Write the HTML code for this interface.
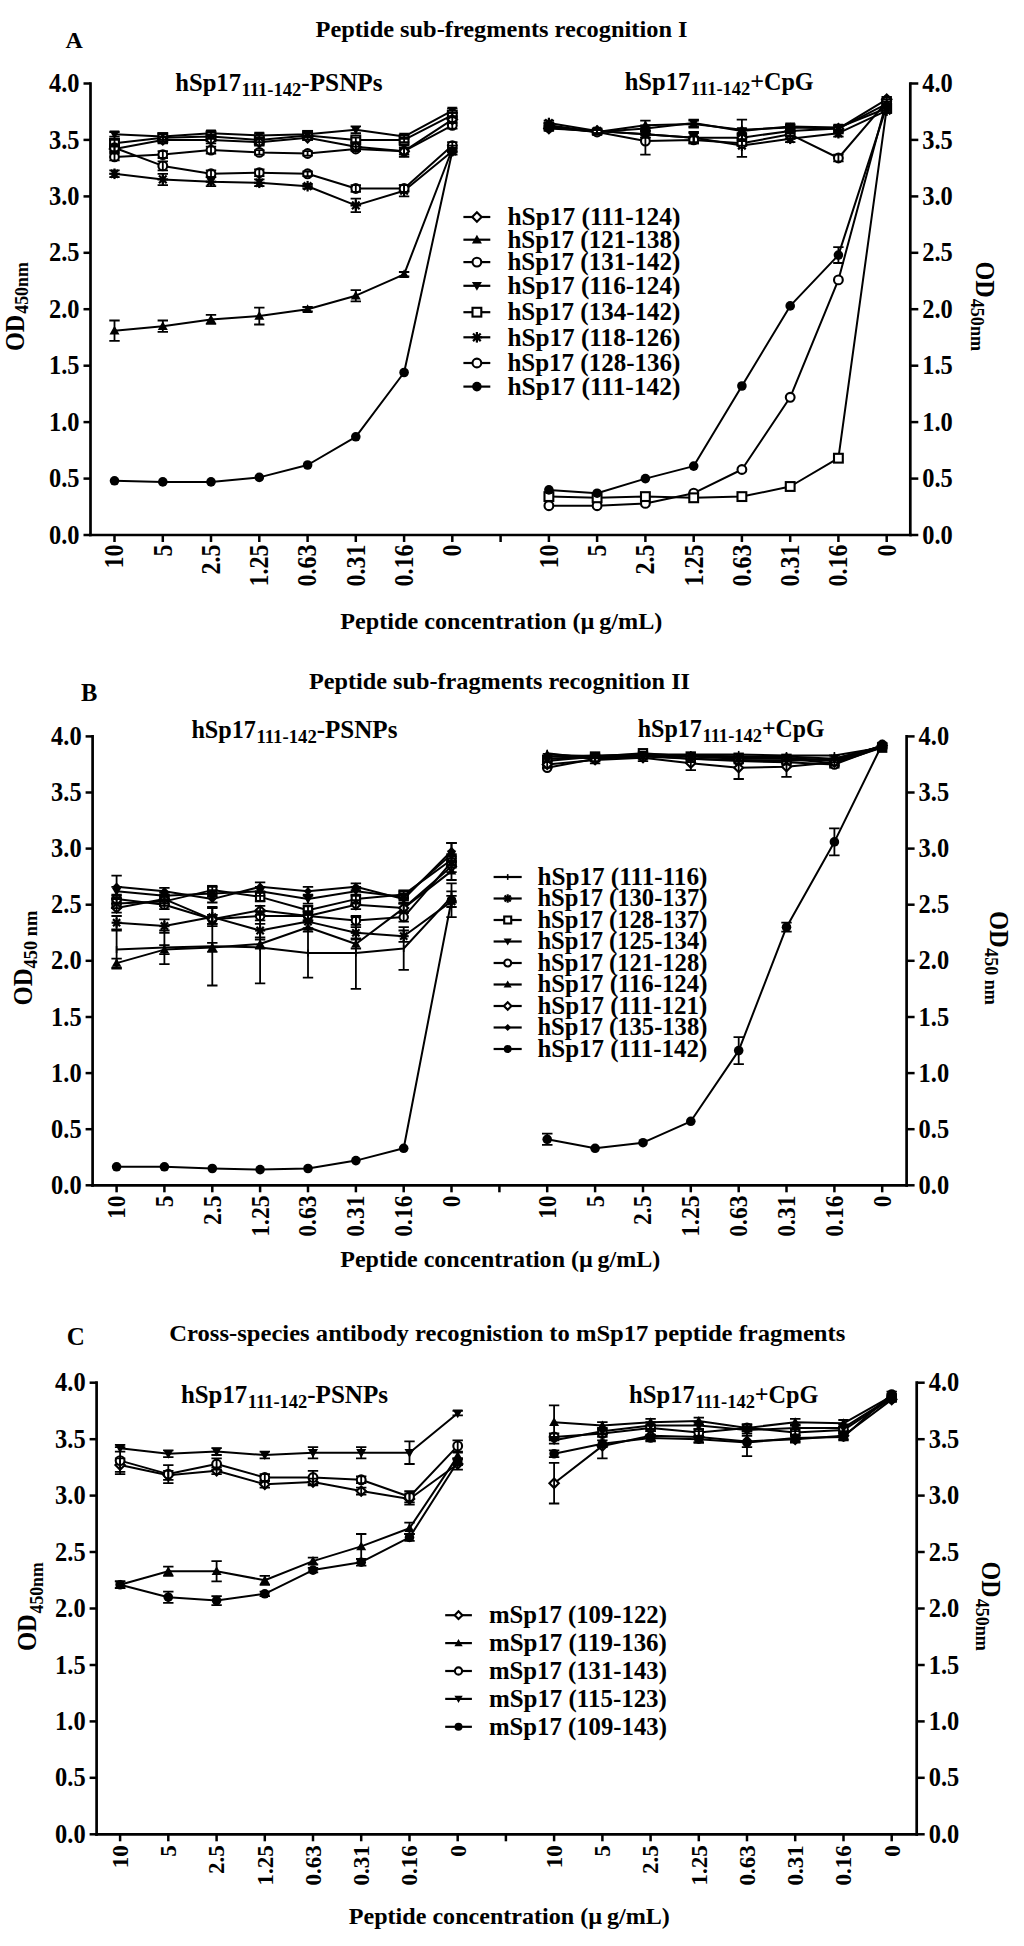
<!DOCTYPE html><html><head><meta charset="utf-8"><title>Peptide sub-fragments recognition</title>
<style>html,body{margin:0;padding:0;background:#fff;}svg{display:block;}</style></head><body>
<svg width="1024" height="1946" viewBox="0 0 1024 1946" font-family="'Liberation Serif', serif" font-weight="bold" fill="#000">
<rect width="1024" height="1946" fill="#fff"/>
<text x="65.5" y="47.8" font-size="24">A</text>
<text x="315.5" y="37.3" font-size="24" textLength="372.0" lengthAdjust="spacingAndGlyphs">Peptide sub-fregments recognition I</text>
<text x="175.3" y="90.5" font-size="24.5" textLength="65.7" lengthAdjust="spacingAndGlyphs">hSp17</text>
<text x="241.5" y="95.9" font-size="18" textLength="59.9" lengthAdjust="spacingAndGlyphs">111-142</text>
<text x="301.3" y="90.5" font-size="24.5" textLength="81.3" lengthAdjust="spacingAndGlyphs">-PSNPs</text>
<text x="624.7" y="90.0" font-size="24.5" textLength="65.5" lengthAdjust="spacingAndGlyphs">hSp17</text>
<text x="690.7" y="95.2" font-size="18" textLength="59.6" lengthAdjust="spacingAndGlyphs">111-142</text>
<text x="750.2" y="90.0" font-size="24.5" textLength="63.5" lengthAdjust="spacingAndGlyphs">+CpG</text>
<g stroke="#000" stroke-width="2.7" fill="none" stroke-linecap="square">
<line x1="90.5" y1="83.5" x2="90.5" y2="535.0"/>
<line x1="910.3" y1="83.5" x2="910.3" y2="535.0"/>
<line x1="90.5" y1="535.0" x2="910.3" y2="535.0"/>
</g>
<g stroke="#000" stroke-width="2.5" fill="none">
<line x1="83.5" y1="535.0" x2="90.5" y2="535.0"/>
<line x1="910.3" y1="535.0" x2="918.3" y2="535.0"/>
<line x1="83.5" y1="478.6" x2="90.5" y2="478.6"/>
<line x1="910.3" y1="478.6" x2="918.3" y2="478.6"/>
<line x1="83.5" y1="422.1" x2="90.5" y2="422.1"/>
<line x1="910.3" y1="422.1" x2="918.3" y2="422.1"/>
<line x1="83.5" y1="365.7" x2="90.5" y2="365.7"/>
<line x1="910.3" y1="365.7" x2="918.3" y2="365.7"/>
<line x1="83.5" y1="309.2" x2="90.5" y2="309.2"/>
<line x1="910.3" y1="309.2" x2="918.3" y2="309.2"/>
<line x1="83.5" y1="252.8" x2="90.5" y2="252.8"/>
<line x1="910.3" y1="252.8" x2="918.3" y2="252.8"/>
<line x1="83.5" y1="196.4" x2="90.5" y2="196.4"/>
<line x1="910.3" y1="196.4" x2="918.3" y2="196.4"/>
<line x1="83.5" y1="139.9" x2="90.5" y2="139.9"/>
<line x1="910.3" y1="139.9" x2="918.3" y2="139.9"/>
<line x1="83.5" y1="83.5" x2="90.5" y2="83.5"/>
<line x1="910.3" y1="83.5" x2="918.3" y2="83.5"/>
<line x1="114.5" y1="535.0" x2="114.5" y2="542.0"/>
<line x1="162.8" y1="535.0" x2="162.8" y2="542.0"/>
<line x1="211.0" y1="535.0" x2="211.0" y2="542.0"/>
<line x1="259.3" y1="535.0" x2="259.3" y2="542.0"/>
<line x1="307.6" y1="535.0" x2="307.6" y2="542.0"/>
<line x1="355.8" y1="535.0" x2="355.8" y2="542.0"/>
<line x1="404.1" y1="535.0" x2="404.1" y2="542.0"/>
<line x1="452.3" y1="535.0" x2="452.3" y2="542.0"/>
<line x1="500.6" y1="535.0" x2="500.6" y2="542.0"/>
<line x1="548.9" y1="535.0" x2="548.9" y2="542.0"/>
<line x1="597.1" y1="535.0" x2="597.1" y2="542.0"/>
<line x1="645.4" y1="535.0" x2="645.4" y2="542.0"/>
<line x1="693.7" y1="535.0" x2="693.7" y2="542.0"/>
<line x1="741.9" y1="535.0" x2="741.9" y2="542.0"/>
<line x1="790.2" y1="535.0" x2="790.2" y2="542.0"/>
<line x1="838.4" y1="535.0" x2="838.4" y2="542.0"/>
<line x1="886.7" y1="535.0" x2="886.7" y2="542.0"/>
</g>
<text x="79.5" y="543.6" font-size="27.5" text-anchor="end" textLength="30.5" lengthAdjust="spacingAndGlyphs">0.0</text>
<text x="922.3" y="543.6" font-size="27.5" textLength="30.5" lengthAdjust="spacingAndGlyphs">0.0</text>
<text x="79.5" y="487.2" font-size="27.5" text-anchor="end" textLength="30.5" lengthAdjust="spacingAndGlyphs">0.5</text>
<text x="922.3" y="487.2" font-size="27.5" textLength="30.5" lengthAdjust="spacingAndGlyphs">0.5</text>
<text x="79.5" y="430.7" font-size="27.5" text-anchor="end" textLength="30.5" lengthAdjust="spacingAndGlyphs">1.0</text>
<text x="922.3" y="430.7" font-size="27.5" textLength="30.5" lengthAdjust="spacingAndGlyphs">1.0</text>
<text x="79.5" y="374.3" font-size="27.5" text-anchor="end" textLength="30.5" lengthAdjust="spacingAndGlyphs">1.5</text>
<text x="922.3" y="374.3" font-size="27.5" textLength="30.5" lengthAdjust="spacingAndGlyphs">1.5</text>
<text x="79.5" y="317.9" font-size="27.5" text-anchor="end" textLength="30.5" lengthAdjust="spacingAndGlyphs">2.0</text>
<text x="922.3" y="317.9" font-size="27.5" textLength="30.5" lengthAdjust="spacingAndGlyphs">2.0</text>
<text x="79.5" y="261.4" font-size="27.5" text-anchor="end" textLength="30.5" lengthAdjust="spacingAndGlyphs">2.5</text>
<text x="922.3" y="261.4" font-size="27.5" textLength="30.5" lengthAdjust="spacingAndGlyphs">2.5</text>
<text x="79.5" y="205.0" font-size="27.5" text-anchor="end" textLength="30.5" lengthAdjust="spacingAndGlyphs">3.0</text>
<text x="922.3" y="205.0" font-size="27.5" textLength="30.5" lengthAdjust="spacingAndGlyphs">3.0</text>
<text x="79.5" y="148.5" font-size="27.5" text-anchor="end" textLength="30.5" lengthAdjust="spacingAndGlyphs">3.5</text>
<text x="922.3" y="148.5" font-size="27.5" textLength="30.5" lengthAdjust="spacingAndGlyphs">3.5</text>
<text x="79.5" y="92.1" font-size="27.5" text-anchor="end" textLength="30.5" lengthAdjust="spacingAndGlyphs">4.0</text>
<text x="922.3" y="92.1" font-size="27.5" textLength="30.5" lengthAdjust="spacingAndGlyphs">4.0</text>
<text transform="translate(123.3,544.6) rotate(-90)" font-size="26.5" text-anchor="end" textLength="24.0" lengthAdjust="spacingAndGlyphs">10</text>
<text transform="translate(171.6,544.6) rotate(-90)" font-size="26.5" text-anchor="end" textLength="12.0" lengthAdjust="spacingAndGlyphs">5</text>
<text transform="translate(219.8,544.6) rotate(-90)" font-size="26.5" text-anchor="end" textLength="30.0" lengthAdjust="spacingAndGlyphs">2.5</text>
<text transform="translate(268.1,544.6) rotate(-90)" font-size="26.5" text-anchor="end" textLength="42.0" lengthAdjust="spacingAndGlyphs">1.25</text>
<text transform="translate(316.4,544.6) rotate(-90)" font-size="26.5" text-anchor="end" textLength="42.0" lengthAdjust="spacingAndGlyphs">0.63</text>
<text transform="translate(364.6,544.6) rotate(-90)" font-size="26.5" text-anchor="end" textLength="42.0" lengthAdjust="spacingAndGlyphs">0.31</text>
<text transform="translate(412.9,544.6) rotate(-90)" font-size="26.5" text-anchor="end" textLength="42.0" lengthAdjust="spacingAndGlyphs">0.16</text>
<text transform="translate(461.1,544.6) rotate(-90)" font-size="26.5" text-anchor="end" textLength="12.0" lengthAdjust="spacingAndGlyphs">0</text>
<text transform="translate(557.7,544.6) rotate(-90)" font-size="26.5" text-anchor="end" textLength="24.0" lengthAdjust="spacingAndGlyphs">10</text>
<text transform="translate(605.9,544.6) rotate(-90)" font-size="26.5" text-anchor="end" textLength="12.0" lengthAdjust="spacingAndGlyphs">5</text>
<text transform="translate(654.2,544.6) rotate(-90)" font-size="26.5" text-anchor="end" textLength="30.0" lengthAdjust="spacingAndGlyphs">2.5</text>
<text transform="translate(702.5,544.6) rotate(-90)" font-size="26.5" text-anchor="end" textLength="42.0" lengthAdjust="spacingAndGlyphs">1.25</text>
<text transform="translate(750.7,544.6) rotate(-90)" font-size="26.5" text-anchor="end" textLength="42.0" lengthAdjust="spacingAndGlyphs">0.63</text>
<text transform="translate(799.0,544.6) rotate(-90)" font-size="26.5" text-anchor="end" textLength="42.0" lengthAdjust="spacingAndGlyphs">0.31</text>
<text transform="translate(847.2,544.6) rotate(-90)" font-size="26.5" text-anchor="end" textLength="42.0" lengthAdjust="spacingAndGlyphs">0.16</text>
<text transform="translate(895.5,544.6) rotate(-90)" font-size="26.5" text-anchor="end" textLength="12.0" lengthAdjust="spacingAndGlyphs">0</text>
<text transform="translate(24.0,351.0) rotate(-90)" font-size="26.5" textLength="36.3" lengthAdjust="spacingAndGlyphs">OD</text>
<text transform="translate(27.7,313.8) rotate(-90)" font-size="18" textLength="51.7" lengthAdjust="spacingAndGlyphs">450nm</text>
<text transform="translate(976.4,261.6) rotate(90)" font-size="26.5" textLength="36.1" lengthAdjust="spacingAndGlyphs">OD</text>
<text transform="translate(971.3,298.8) rotate(90)" font-size="18" textLength="52.2" lengthAdjust="spacingAndGlyphs">450nm</text>
<text x="340.3" y="629.0" font-size="24" textLength="322.0" lengthAdjust="spacingAndGlyphs">Peptide concentration (µ g/mL)</text>
<path d="M114.5,173.8 L162.8,179.4 L211.0,181.7 L259.3,182.8 L307.6,186.2 L355.8,205.4 L404.1,190.7 L452.3,151.2" fill="none" stroke="#000" stroke-width="2.0" stroke-linejoin="round"/>
<path d="M114.5,330.7 L162.8,326.2 L211.0,319.4 L259.3,316.0 L307.6,309.2 L355.8,295.7 L404.1,274.3 L452.3,149.0" fill="none" stroke="#000" stroke-width="2.0" stroke-linejoin="round"/>
<path d="M114.5,156.9 L162.8,154.6 L211.0,150.1 L259.3,152.4 L307.6,153.5 L355.8,149.0 L404.1,151.2 L452.3,125.3" fill="none" stroke="#000" stroke-width="2.0" stroke-linejoin="round"/>
<path d="M114.5,134.3 L162.8,136.6 L211.0,133.2 L259.3,135.4 L307.6,134.3 L355.8,129.8 L404.1,136.6 L452.3,110.6" fill="none" stroke="#000" stroke-width="2.0" stroke-linejoin="round"/>
<path d="M114.5,143.3 L162.8,137.7 L211.0,136.6 L259.3,139.9 L307.6,135.4 L355.8,139.9 L404.1,139.9 L452.3,115.1" fill="none" stroke="#000" stroke-width="2.0" stroke-linejoin="round"/>
<path d="M114.5,149.0 L162.8,139.9 L211.0,139.9 L259.3,142.2 L307.6,137.7 L355.8,146.7 L404.1,151.2 L452.3,119.6" fill="none" stroke="#000" stroke-width="2.0" stroke-linejoin="round"/>
<path d="M114.5,147.8 L162.8,165.9 L211.0,173.8 L259.3,172.7 L307.6,173.8 L355.8,188.5 L404.1,188.5 L452.3,145.6" fill="none" stroke="#000" stroke-width="2.0" stroke-linejoin="round"/>
<path d="M114.5,480.8 L162.8,481.9 L211.0,481.9 L259.3,477.4 L307.6,465.0 L355.8,436.8 L404.1,372.5 L452.3,151.2" fill="none" stroke="#000" stroke-width="2.0" stroke-linejoin="round"/>
<g stroke="#000" stroke-width="2.2"><line x1="109.2" y1="173.8" x2="119.8" y2="173.8"/><line x1="114.5" y1="168.5" x2="114.5" y2="179.1"/><line x1="110.7" y1="170.0" x2="118.3" y2="177.6"/><line x1="110.7" y1="177.6" x2="118.3" y2="170.0"/></g>
<circle cx="114.5" cy="173.8" r="2.9" fill="#000"/>
<g stroke="#000" stroke-width="2.2"><line x1="157.5" y1="179.4" x2="168.1" y2="179.4"/><line x1="162.8" y1="174.2" x2="162.8" y2="184.7"/><line x1="159.0" y1="175.6" x2="166.6" y2="183.3"/><line x1="159.0" y1="183.3" x2="166.6" y2="175.6"/></g>
<circle cx="162.8" cy="179.4" r="2.9" fill="#000"/>
<g stroke="#000" stroke-width="2.2"><line x1="205.7" y1="181.7" x2="216.3" y2="181.7"/><line x1="211.0" y1="176.4" x2="211.0" y2="187.0"/><line x1="207.2" y1="177.9" x2="214.8" y2="185.5"/><line x1="207.2" y1="185.5" x2="214.8" y2="177.9"/></g>
<circle cx="211.0" cy="181.7" r="2.9" fill="#000"/>
<g stroke="#000" stroke-width="2.2"><line x1="254.0" y1="182.8" x2="264.6" y2="182.8"/><line x1="259.3" y1="177.5" x2="259.3" y2="188.1"/><line x1="255.5" y1="179.0" x2="263.1" y2="186.6"/><line x1="255.5" y1="186.6" x2="263.1" y2="179.0"/></g>
<circle cx="259.3" cy="182.8" r="2.9" fill="#000"/>
<g stroke="#000" stroke-width="2.2"><line x1="302.3" y1="186.2" x2="312.8" y2="186.2"/><line x1="307.6" y1="180.9" x2="307.6" y2="191.5"/><line x1="303.7" y1="182.4" x2="311.4" y2="190.0"/><line x1="303.7" y1="190.0" x2="311.4" y2="182.4"/></g>
<circle cx="307.6" cy="186.2" r="2.9" fill="#000"/>
<g stroke="#000" stroke-width="2.2"><line x1="350.5" y1="205.4" x2="361.1" y2="205.4"/><line x1="355.8" y1="200.1" x2="355.8" y2="210.7"/><line x1="352.0" y1="201.6" x2="359.6" y2="209.2"/><line x1="352.0" y1="209.2" x2="359.6" y2="201.6"/></g>
<circle cx="355.8" cy="205.4" r="2.9" fill="#000"/>
<g stroke="#000" stroke-width="2.2"><line x1="398.8" y1="190.7" x2="409.4" y2="190.7"/><line x1="404.1" y1="185.4" x2="404.1" y2="196.0"/><line x1="400.3" y1="186.9" x2="407.9" y2="194.5"/><line x1="400.3" y1="194.5" x2="407.9" y2="186.9"/></g>
<circle cx="404.1" cy="190.7" r="2.9" fill="#000"/>
<g stroke="#000" stroke-width="2.2"><line x1="447.0" y1="151.2" x2="457.6" y2="151.2"/><line x1="452.3" y1="145.9" x2="452.3" y2="156.5"/><line x1="448.5" y1="147.4" x2="456.1" y2="155.0"/><line x1="448.5" y1="155.0" x2="456.1" y2="147.4"/></g>
<circle cx="452.3" cy="151.2" r="2.9" fill="#000"/>
<polygon points="114.5,325.7 119.5,334.4 109.5,334.4" fill="#000"/>
<polygon points="162.8,321.2 167.8,329.9 157.8,329.9" fill="#000"/>
<polygon points="211.0,314.4 216.0,323.2 206.0,323.2" fill="#000"/>
<polygon points="259.3,311.0 264.3,319.8 254.3,319.8" fill="#000"/>
<polygon points="307.6,304.2 312.6,313.0 302.6,313.0" fill="#000"/>
<polygon points="355.8,290.7 360.8,299.5 350.8,299.5" fill="#000"/>
<polygon points="404.1,269.3 409.1,278.0 399.1,278.0" fill="#000"/>
<polygon points="452.3,144.0 457.3,152.7 447.3,152.7" fill="#000"/>
<circle cx="114.5" cy="156.9" r="4.4" fill="#fff" stroke="#000" stroke-width="2.1"/>
<circle cx="162.8" cy="154.6" r="4.4" fill="#fff" stroke="#000" stroke-width="2.1"/>
<circle cx="211.0" cy="150.1" r="4.4" fill="#fff" stroke="#000" stroke-width="2.1"/>
<circle cx="259.3" cy="152.4" r="4.4" fill="#fff" stroke="#000" stroke-width="2.1"/>
<circle cx="307.6" cy="153.5" r="4.4" fill="#fff" stroke="#000" stroke-width="2.1"/>
<circle cx="355.8" cy="149.0" r="4.4" fill="#fff" stroke="#000" stroke-width="2.1"/>
<circle cx="404.1" cy="151.2" r="4.4" fill="#fff" stroke="#000" stroke-width="2.1"/>
<circle cx="452.3" cy="125.3" r="4.4" fill="#fff" stroke="#000" stroke-width="2.1"/>
<polygon points="114.5,139.3 119.5,130.5 109.5,130.5" fill="#000"/>
<polygon points="162.8,141.6 167.8,132.8 157.8,132.8" fill="#000"/>
<polygon points="211.0,138.2 216.0,129.4 206.0,129.4" fill="#000"/>
<polygon points="259.3,140.4 264.3,131.7 254.3,131.7" fill="#000"/>
<polygon points="307.6,139.3 312.6,130.5 302.6,130.5" fill="#000"/>
<polygon points="355.8,134.8 360.8,126.0 350.8,126.0" fill="#000"/>
<polygon points="404.1,141.6 409.1,132.8 399.1,132.8" fill="#000"/>
<polygon points="452.3,115.6 457.3,106.8 447.3,106.8" fill="#000"/>
<rect x="110.1" y="138.9" width="8.8" height="8.8" fill="#fff" stroke="#000" stroke-width="2.1"/>
<rect x="158.4" y="133.3" width="8.8" height="8.8" fill="#fff" stroke="#000" stroke-width="2.1"/>
<rect x="206.6" y="132.2" width="8.8" height="8.8" fill="#fff" stroke="#000" stroke-width="2.1"/>
<rect x="254.9" y="135.5" width="8.8" height="8.8" fill="#fff" stroke="#000" stroke-width="2.1"/>
<rect x="303.2" y="131.0" width="8.8" height="8.8" fill="#fff" stroke="#000" stroke-width="2.1"/>
<rect x="351.4" y="135.5" width="8.8" height="8.8" fill="#fff" stroke="#000" stroke-width="2.1"/>
<rect x="399.7" y="135.5" width="8.8" height="8.8" fill="#fff" stroke="#000" stroke-width="2.1"/>
<rect x="447.9" y="110.7" width="8.8" height="8.8" fill="#fff" stroke="#000" stroke-width="2.1"/>
<polygon points="114.5,144.3 119.2,149.0 114.5,153.7 109.8,149.0" fill="#fff" stroke="#000" stroke-width="2.1"/>
<polygon points="162.8,135.2 167.5,139.9 162.8,144.6 158.1,139.9" fill="#fff" stroke="#000" stroke-width="2.1"/>
<polygon points="211.0,135.2 215.7,139.9 211.0,144.6 206.3,139.9" fill="#fff" stroke="#000" stroke-width="2.1"/>
<polygon points="259.3,137.5 264.0,142.2 259.3,146.9 254.6,142.2" fill="#fff" stroke="#000" stroke-width="2.1"/>
<polygon points="307.6,133.0 312.2,137.7 307.6,142.4 302.9,137.7" fill="#fff" stroke="#000" stroke-width="2.1"/>
<polygon points="355.8,142.0 360.5,146.7 355.8,151.4 351.1,146.7" fill="#fff" stroke="#000" stroke-width="2.1"/>
<polygon points="404.1,146.5 408.8,151.2 404.1,155.9 399.4,151.2" fill="#fff" stroke="#000" stroke-width="2.1"/>
<polygon points="452.3,114.9 457.0,119.6 452.3,124.3 447.6,119.6" fill="#fff" stroke="#000" stroke-width="2.1"/>
<circle cx="114.5" cy="147.8" r="4.4" fill="#fff" stroke="#000" stroke-width="2.1"/>
<circle cx="162.8" cy="165.9" r="4.4" fill="#fff" stroke="#000" stroke-width="2.1"/>
<circle cx="211.0" cy="173.8" r="4.4" fill="#fff" stroke="#000" stroke-width="2.1"/>
<circle cx="259.3" cy="172.7" r="4.4" fill="#fff" stroke="#000" stroke-width="2.1"/>
<circle cx="307.6" cy="173.8" r="4.4" fill="#fff" stroke="#000" stroke-width="2.1"/>
<circle cx="355.8" cy="188.5" r="4.4" fill="#fff" stroke="#000" stroke-width="2.1"/>
<circle cx="404.1" cy="188.5" r="4.4" fill="#fff" stroke="#000" stroke-width="2.1"/>
<circle cx="452.3" cy="145.6" r="4.4" fill="#fff" stroke="#000" stroke-width="2.1"/>
<circle cx="114.5" cy="480.8" r="4.8" fill="#000"/>
<circle cx="162.8" cy="481.9" r="4.8" fill="#000"/>
<circle cx="211.0" cy="481.9" r="4.8" fill="#000"/>
<circle cx="259.3" cy="477.4" r="4.8" fill="#000"/>
<circle cx="307.6" cy="465.0" r="4.8" fill="#000"/>
<circle cx="355.8" cy="436.8" r="4.8" fill="#000"/>
<circle cx="404.1" cy="372.5" r="4.8" fill="#000"/>
<circle cx="452.3" cy="151.2" r="4.8" fill="#000"/>
<path d="M114.5,170.4 V177.2 M109.3,170.4 H119.7 M109.3,177.2 H119.7" stroke="#000" stroke-width="1.8" fill="none"/>
<path d="M162.8,173.8 V185.1 M157.6,173.8 H168.0 M157.6,185.1 H168.0" stroke="#000" stroke-width="1.8" fill="none"/>
<path d="M211.0,177.2 V186.2 M205.8,177.2 H216.2 M205.8,186.2 H216.2" stroke="#000" stroke-width="1.8" fill="none"/>
<path d="M259.3,179.4 V186.2 M254.1,179.4 H264.5 M254.1,186.2 H264.5" stroke="#000" stroke-width="1.8" fill="none"/>
<path d="M307.6,184.0 V188.5 M302.4,184.0 H312.8 M302.4,188.5 H312.8" stroke="#000" stroke-width="1.8" fill="none"/>
<path d="M355.8,198.6 V212.2 M350.6,198.6 H361.0 M350.6,212.2 H361.0" stroke="#000" stroke-width="1.8" fill="none"/>
<path d="M404.1,185.1 V196.4 M398.9,185.1 H409.3 M398.9,196.4 H409.3" stroke="#000" stroke-width="1.8" fill="none"/>
<path d="M452.3,147.8 V154.6 M447.1,147.8 H457.5 M447.1,154.6 H457.5" stroke="#000" stroke-width="1.8" fill="none"/>
<path d="M114.5,320.5 V340.9 M109.3,320.5 H119.7 M109.3,340.9 H119.7" stroke="#000" stroke-width="1.8" fill="none"/>
<path d="M162.8,320.5 V331.8 M157.6,320.5 H168.0 M157.6,331.8 H168.0" stroke="#000" stroke-width="1.8" fill="none"/>
<path d="M211.0,314.9 V323.9 M205.8,314.9 H216.2 M205.8,323.9 H216.2" stroke="#000" stroke-width="1.8" fill="none"/>
<path d="M259.3,307.6 V324.5 M254.1,307.6 H264.5 M254.1,324.5 H264.5" stroke="#000" stroke-width="1.8" fill="none"/>
<path d="M307.6,307.0 V311.5 M302.4,307.0 H312.8 M302.4,311.5 H312.8" stroke="#000" stroke-width="1.8" fill="none"/>
<path d="M355.8,290.1 V301.3 M350.6,290.1 H361.0 M350.6,301.3 H361.0" stroke="#000" stroke-width="1.8" fill="none"/>
<path d="M404.1,272.0 V276.5 M398.9,272.0 H409.3 M398.9,276.5 H409.3" stroke="#000" stroke-width="1.8" fill="none"/>
<path d="M452.3,145.6 V152.4 M447.1,145.6 H457.5 M447.1,152.4 H457.5" stroke="#000" stroke-width="1.8" fill="none"/>
<path d="M114.5,153.5 V160.3 M109.3,153.5 H119.7 M109.3,160.3 H119.7" stroke="#000" stroke-width="1.8" fill="none"/>
<path d="M162.8,151.2 V158.0 M157.6,151.2 H168.0 M157.6,158.0 H168.0" stroke="#000" stroke-width="1.8" fill="none"/>
<path d="M211.0,146.7 V153.5 M205.8,146.7 H216.2 M205.8,153.5 H216.2" stroke="#000" stroke-width="1.8" fill="none"/>
<path d="M259.3,150.1 V154.6 M254.1,150.1 H264.5 M254.1,154.6 H264.5" stroke="#000" stroke-width="1.8" fill="none"/>
<path d="M307.6,151.2 V155.7 M302.4,151.2 H312.8 M302.4,155.7 H312.8" stroke="#000" stroke-width="1.8" fill="none"/>
<path d="M355.8,146.7 V151.2 M350.6,146.7 H361.0 M350.6,151.2 H361.0" stroke="#000" stroke-width="1.8" fill="none"/>
<path d="M404.1,147.8 V154.6 M398.9,147.8 H409.3 M398.9,154.6 H409.3" stroke="#000" stroke-width="1.8" fill="none"/>
<path d="M452.3,121.9 V128.7 M447.1,121.9 H457.5 M447.1,128.7 H457.5" stroke="#000" stroke-width="1.8" fill="none"/>
<path d="M114.5,132.0 V136.6 M109.3,132.0 H119.7 M109.3,136.6 H119.7" stroke="#000" stroke-width="1.8" fill="none"/>
<path d="M162.8,133.2 V139.9 M157.6,133.2 H168.0 M157.6,139.9 H168.0" stroke="#000" stroke-width="1.8" fill="none"/>
<path d="M211.0,130.9 V135.4 M205.8,130.9 H216.2 M205.8,135.4 H216.2" stroke="#000" stroke-width="1.8" fill="none"/>
<path d="M259.3,133.2 V137.7 M254.1,133.2 H264.5 M254.1,137.7 H264.5" stroke="#000" stroke-width="1.8" fill="none"/>
<path d="M307.6,132.0 V136.6 M302.4,132.0 H312.8 M302.4,136.6 H312.8" stroke="#000" stroke-width="1.8" fill="none"/>
<path d="M355.8,126.4 V133.2 M350.6,126.4 H361.0 M350.6,133.2 H361.0" stroke="#000" stroke-width="1.8" fill="none"/>
<path d="M404.1,134.3 V138.8 M398.9,134.3 H409.3 M398.9,138.8 H409.3" stroke="#000" stroke-width="1.8" fill="none"/>
<path d="M452.3,108.3 V112.8 M447.1,108.3 H457.5 M447.1,112.8 H457.5" stroke="#000" stroke-width="1.8" fill="none"/>
<path d="M114.5,139.9 V146.7 M109.3,139.9 H119.7 M109.3,146.7 H119.7" stroke="#000" stroke-width="1.8" fill="none"/>
<path d="M162.8,134.3 V141.1 M157.6,134.3 H168.0 M157.6,141.1 H168.0" stroke="#000" stroke-width="1.8" fill="none"/>
<path d="M211.0,134.3 V138.8 M205.8,134.3 H216.2 M205.8,138.8 H216.2" stroke="#000" stroke-width="1.8" fill="none"/>
<path d="M259.3,137.7 V142.2 M254.1,137.7 H264.5 M254.1,142.2 H264.5" stroke="#000" stroke-width="1.8" fill="none"/>
<path d="M307.6,133.2 V137.7 M302.4,133.2 H312.8 M302.4,137.7 H312.8" stroke="#000" stroke-width="1.8" fill="none"/>
<path d="M355.8,137.7 V142.2 M350.6,137.7 H361.0 M350.6,142.2 H361.0" stroke="#000" stroke-width="1.8" fill="none"/>
<path d="M404.1,137.7 V142.2 M398.9,137.7 H409.3 M398.9,142.2 H409.3" stroke="#000" stroke-width="1.8" fill="none"/>
<path d="M452.3,112.8 V117.4 M447.1,112.8 H457.5 M447.1,117.4 H457.5" stroke="#000" stroke-width="1.8" fill="none"/>
<path d="M114.5,145.6 V152.4 M109.3,145.6 H119.7 M109.3,152.4 H119.7" stroke="#000" stroke-width="1.8" fill="none"/>
<path d="M162.8,136.6 V143.3 M157.6,136.6 H168.0 M157.6,143.3 H168.0" stroke="#000" stroke-width="1.8" fill="none"/>
<path d="M211.0,136.6 V143.3 M205.8,136.6 H216.2 M205.8,143.3 H216.2" stroke="#000" stroke-width="1.8" fill="none"/>
<path d="M259.3,138.8 V145.6 M254.1,138.8 H264.5 M254.1,145.6 H264.5" stroke="#000" stroke-width="1.8" fill="none"/>
<path d="M307.6,135.4 V139.9 M302.4,135.4 H312.8 M302.4,139.9 H312.8" stroke="#000" stroke-width="1.8" fill="none"/>
<path d="M355.8,143.3 V150.1 M350.6,143.3 H361.0 M350.6,150.1 H361.0" stroke="#000" stroke-width="1.8" fill="none"/>
<path d="M404.1,145.6 V156.9 M398.9,145.6 H409.3 M398.9,156.9 H409.3" stroke="#000" stroke-width="1.8" fill="none"/>
<path d="M452.3,116.2 V123.0 M447.1,116.2 H457.5 M447.1,123.0 H457.5" stroke="#000" stroke-width="1.8" fill="none"/>
<path d="M114.5,144.5 V151.2 M109.3,144.5 H119.7 M109.3,151.2 H119.7" stroke="#000" stroke-width="1.8" fill="none"/>
<path d="M162.8,161.4 V170.4 M157.6,161.4 H168.0 M157.6,170.4 H168.0" stroke="#000" stroke-width="1.8" fill="none"/>
<path d="M211.0,170.4 V177.2 M205.8,170.4 H216.2 M205.8,177.2 H216.2" stroke="#000" stroke-width="1.8" fill="none"/>
<path d="M259.3,169.3 V176.1 M254.1,169.3 H264.5 M254.1,176.1 H264.5" stroke="#000" stroke-width="1.8" fill="none"/>
<path d="M307.6,171.5 V176.1 M302.4,171.5 H312.8 M302.4,176.1 H312.8" stroke="#000" stroke-width="1.8" fill="none"/>
<path d="M355.8,185.1 V191.9 M350.6,185.1 H361.0 M350.6,191.9 H361.0" stroke="#000" stroke-width="1.8" fill="none"/>
<path d="M404.1,185.1 V191.9 M398.9,185.1 H409.3 M398.9,191.9 H409.3" stroke="#000" stroke-width="1.8" fill="none"/>
<path d="M452.3,142.2 V149.0 M447.1,142.2 H457.5 M447.1,149.0 H457.5" stroke="#000" stroke-width="1.8" fill="none"/>
<path d="M548.9,128.6 L597.1,130.9 L645.4,134.3 L693.7,137.7 L741.9,137.7 L790.2,130.9 L838.4,128.6 L886.7,99.3" fill="none" stroke="#000" stroke-width="2.0" stroke-linejoin="round"/>
<path d="M548.9,126.4 L597.1,132.0 L645.4,125.3 L693.7,124.1 L741.9,129.8 L790.2,127.5 L838.4,128.6 L886.7,103.8" fill="none" stroke="#000" stroke-width="2.0" stroke-linejoin="round"/>
<path d="M548.9,505.7 L597.1,505.7 L645.4,503.4 L693.7,493.2 L741.9,469.5 L790.2,397.3 L838.4,279.9 L886.7,100.4" fill="none" stroke="#000" stroke-width="2.0" stroke-linejoin="round"/>
<path d="M548.9,125.3 L597.1,132.0 L645.4,128.6 L693.7,123.0 L741.9,130.9 L790.2,126.4 L838.4,127.5 L886.7,108.3" fill="none" stroke="#000" stroke-width="2.0" stroke-linejoin="round"/>
<path d="M548.9,496.6 L597.1,497.8 L645.4,496.6 L693.7,497.8 L741.9,496.6 L790.2,486.5 L838.4,458.2 L886.7,108.3" fill="none" stroke="#000" stroke-width="2.0" stroke-linejoin="round"/>
<path d="M548.9,123.0 L597.1,130.9 L645.4,134.3 L693.7,137.7 L741.9,145.6 L790.2,138.8 L838.4,133.2 L886.7,110.6" fill="none" stroke="#000" stroke-width="2.0" stroke-linejoin="round"/>
<path d="M548.9,127.5 L597.1,132.0 L645.4,141.1 L693.7,139.9 L741.9,143.3 L790.2,134.3 L838.4,158.0 L886.7,101.6" fill="none" stroke="#000" stroke-width="2.0" stroke-linejoin="round"/>
<path d="M548.9,489.9 L597.1,493.2 L645.4,478.6 L693.7,466.1 L741.9,386.0 L790.2,305.9 L838.4,255.1 L886.7,106.1" fill="none" stroke="#000" stroke-width="2.0" stroke-linejoin="round"/>
<polygon points="548.9,123.9 553.6,128.6 548.9,133.3 544.2,128.6" fill="#fff" stroke="#000" stroke-width="2.1"/>
<polygon points="597.1,126.2 601.8,130.9 597.1,135.6 592.4,130.9" fill="#fff" stroke="#000" stroke-width="2.1"/>
<polygon points="645.4,129.6 650.1,134.3 645.4,139.0 640.7,134.3" fill="#fff" stroke="#000" stroke-width="2.1"/>
<polygon points="693.7,133.0 698.4,137.7 693.7,142.4 689.0,137.7" fill="#fff" stroke="#000" stroke-width="2.1"/>
<polygon points="741.9,133.0 746.6,137.7 741.9,142.4 737.2,137.7" fill="#fff" stroke="#000" stroke-width="2.1"/>
<polygon points="790.2,126.2 794.9,130.9 790.2,135.6 785.5,130.9" fill="#fff" stroke="#000" stroke-width="2.1"/>
<polygon points="838.4,123.9 843.1,128.6 838.4,133.3 833.7,128.6" fill="#fff" stroke="#000" stroke-width="2.1"/>
<polygon points="886.7,94.6 891.4,99.3 886.7,104.0 882.0,99.3" fill="#fff" stroke="#000" stroke-width="2.1"/>
<polygon points="548.9,121.4 553.9,130.1 543.9,130.1" fill="#000"/>
<polygon points="597.1,127.0 602.1,135.8 592.1,135.8" fill="#000"/>
<polygon points="645.4,120.3 650.4,129.0 640.4,129.0" fill="#000"/>
<polygon points="693.7,119.1 698.7,127.9 688.7,127.9" fill="#000"/>
<polygon points="741.9,124.8 746.9,133.5 736.9,133.5" fill="#000"/>
<polygon points="790.2,122.5 795.2,131.3 785.2,131.3" fill="#000"/>
<polygon points="838.4,123.6 843.4,132.4 833.4,132.4" fill="#000"/>
<polygon points="886.7,98.8 891.7,107.6 881.7,107.6" fill="#000"/>
<circle cx="548.9" cy="505.7" r="4.4" fill="#fff" stroke="#000" stroke-width="2.1"/>
<circle cx="597.1" cy="505.7" r="4.4" fill="#fff" stroke="#000" stroke-width="2.1"/>
<circle cx="645.4" cy="503.4" r="4.4" fill="#fff" stroke="#000" stroke-width="2.1"/>
<circle cx="693.7" cy="493.2" r="4.4" fill="#fff" stroke="#000" stroke-width="2.1"/>
<circle cx="741.9" cy="469.5" r="4.4" fill="#fff" stroke="#000" stroke-width="2.1"/>
<circle cx="790.2" cy="397.3" r="4.4" fill="#fff" stroke="#000" stroke-width="2.1"/>
<circle cx="838.4" cy="279.9" r="4.4" fill="#fff" stroke="#000" stroke-width="2.1"/>
<circle cx="886.7" cy="100.4" r="4.4" fill="#fff" stroke="#000" stroke-width="2.1"/>
<polygon points="548.9,130.3 553.9,121.5 543.9,121.5" fill="#000"/>
<polygon points="597.1,137.0 602.1,128.3 592.1,128.3" fill="#000"/>
<polygon points="645.4,133.6 650.4,124.9 640.4,124.9" fill="#000"/>
<polygon points="693.7,128.0 698.7,119.3 688.7,119.3" fill="#000"/>
<polygon points="741.9,135.9 746.9,127.2 736.9,127.2" fill="#000"/>
<polygon points="790.2,131.4 795.2,122.6 785.2,122.6" fill="#000"/>
<polygon points="838.4,132.5 843.4,123.8 833.4,123.8" fill="#000"/>
<polygon points="886.7,113.3 891.7,104.6 881.7,104.6" fill="#000"/>
<rect x="544.5" y="492.2" width="8.8" height="8.8" fill="#fff" stroke="#000" stroke-width="2.1"/>
<rect x="592.7" y="493.4" width="8.8" height="8.8" fill="#fff" stroke="#000" stroke-width="2.1"/>
<rect x="641.0" y="492.2" width="8.8" height="8.8" fill="#fff" stroke="#000" stroke-width="2.1"/>
<rect x="689.3" y="493.4" width="8.8" height="8.8" fill="#fff" stroke="#000" stroke-width="2.1"/>
<rect x="737.5" y="492.2" width="8.8" height="8.8" fill="#fff" stroke="#000" stroke-width="2.1"/>
<rect x="785.8" y="482.1" width="8.8" height="8.8" fill="#fff" stroke="#000" stroke-width="2.1"/>
<rect x="834.0" y="453.8" width="8.8" height="8.8" fill="#fff" stroke="#000" stroke-width="2.1"/>
<rect x="882.3" y="103.9" width="8.8" height="8.8" fill="#fff" stroke="#000" stroke-width="2.1"/>
<g stroke="#000" stroke-width="2.2"><line x1="543.6" y1="123.0" x2="554.2" y2="123.0"/><line x1="548.9" y1="117.7" x2="548.9" y2="128.3"/><line x1="545.1" y1="119.2" x2="552.7" y2="126.8"/><line x1="545.1" y1="126.8" x2="552.7" y2="119.2"/></g>
<circle cx="548.9" cy="123.0" r="2.9" fill="#000"/>
<g stroke="#000" stroke-width="2.2"><line x1="591.8" y1="130.9" x2="602.4" y2="130.9"/><line x1="597.1" y1="125.6" x2="597.1" y2="136.2"/><line x1="593.3" y1="127.1" x2="600.9" y2="134.7"/><line x1="593.3" y1="134.7" x2="600.9" y2="127.1"/></g>
<circle cx="597.1" cy="130.9" r="2.9" fill="#000"/>
<g stroke="#000" stroke-width="2.2"><line x1="640.1" y1="134.3" x2="650.7" y2="134.3"/><line x1="645.4" y1="129.0" x2="645.4" y2="139.6"/><line x1="641.6" y1="130.5" x2="649.2" y2="138.1"/><line x1="641.6" y1="138.1" x2="649.2" y2="130.5"/></g>
<circle cx="645.4" cy="134.3" r="2.9" fill="#000"/>
<g stroke="#000" stroke-width="2.2"><line x1="688.4" y1="137.7" x2="698.9" y2="137.7"/><line x1="693.7" y1="132.4" x2="693.7" y2="143.0"/><line x1="689.8" y1="133.9" x2="697.5" y2="141.5"/><line x1="689.8" y1="141.5" x2="697.5" y2="133.9"/></g>
<circle cx="693.7" cy="137.7" r="2.9" fill="#000"/>
<g stroke="#000" stroke-width="2.2"><line x1="736.6" y1="145.6" x2="747.2" y2="145.6"/><line x1="741.9" y1="140.3" x2="741.9" y2="150.9"/><line x1="738.1" y1="141.8" x2="745.7" y2="149.4"/><line x1="738.1" y1="149.4" x2="745.7" y2="141.8"/></g>
<circle cx="741.9" cy="145.6" r="2.9" fill="#000"/>
<g stroke="#000" stroke-width="2.2"><line x1="784.9" y1="138.8" x2="795.5" y2="138.8"/><line x1="790.2" y1="133.5" x2="790.2" y2="144.1"/><line x1="786.4" y1="135.0" x2="794.0" y2="142.6"/><line x1="786.4" y1="142.6" x2="794.0" y2="135.0"/></g>
<circle cx="790.2" cy="138.8" r="2.9" fill="#000"/>
<g stroke="#000" stroke-width="2.2"><line x1="833.1" y1="133.2" x2="843.7" y2="133.2"/><line x1="838.4" y1="127.9" x2="838.4" y2="138.5"/><line x1="834.6" y1="129.4" x2="842.2" y2="137.0"/><line x1="834.6" y1="137.0" x2="842.2" y2="129.4"/></g>
<circle cx="838.4" cy="133.2" r="2.9" fill="#000"/>
<g stroke="#000" stroke-width="2.2"><line x1="881.4" y1="110.6" x2="892.0" y2="110.6"/><line x1="886.7" y1="105.3" x2="886.7" y2="115.9"/><line x1="882.9" y1="106.8" x2="890.5" y2="114.4"/><line x1="882.9" y1="114.4" x2="890.5" y2="106.8"/></g>
<circle cx="886.7" cy="110.6" r="2.9" fill="#000"/>
<circle cx="548.9" cy="127.5" r="4.4" fill="#fff" stroke="#000" stroke-width="2.1"/>
<circle cx="597.1" cy="132.0" r="4.4" fill="#fff" stroke="#000" stroke-width="2.1"/>
<circle cx="645.4" cy="141.1" r="4.4" fill="#fff" stroke="#000" stroke-width="2.1"/>
<circle cx="693.7" cy="139.9" r="4.4" fill="#fff" stroke="#000" stroke-width="2.1"/>
<circle cx="741.9" cy="143.3" r="4.4" fill="#fff" stroke="#000" stroke-width="2.1"/>
<circle cx="790.2" cy="134.3" r="4.4" fill="#fff" stroke="#000" stroke-width="2.1"/>
<circle cx="838.4" cy="158.0" r="4.4" fill="#fff" stroke="#000" stroke-width="2.1"/>
<circle cx="886.7" cy="101.6" r="4.4" fill="#fff" stroke="#000" stroke-width="2.1"/>
<circle cx="548.9" cy="489.9" r="4.8" fill="#000"/>
<circle cx="597.1" cy="493.2" r="4.8" fill="#000"/>
<circle cx="645.4" cy="478.6" r="4.8" fill="#000"/>
<circle cx="693.7" cy="466.1" r="4.8" fill="#000"/>
<circle cx="741.9" cy="386.0" r="4.8" fill="#000"/>
<circle cx="790.2" cy="305.9" r="4.8" fill="#000"/>
<circle cx="838.4" cy="255.1" r="4.8" fill="#000"/>
<circle cx="886.7" cy="106.1" r="4.8" fill="#000"/>
<path d="M548.9,126.4 V130.9 M543.7,126.4 H554.1 M543.7,130.9 H554.1" stroke="#000" stroke-width="1.8" fill="none"/>
<path d="M597.1,128.6 V133.2 M591.9,128.6 H602.3 M591.9,133.2 H602.3" stroke="#000" stroke-width="1.8" fill="none"/>
<path d="M645.4,130.9 V137.7 M640.2,130.9 H650.6 M640.2,137.7 H650.6" stroke="#000" stroke-width="1.8" fill="none"/>
<path d="M693.7,133.2 V142.2 M688.5,133.2 H698.9 M688.5,142.2 H698.9" stroke="#000" stroke-width="1.8" fill="none"/>
<path d="M741.9,135.4 V139.9 M736.7,135.4 H747.1 M736.7,139.9 H747.1" stroke="#000" stroke-width="1.8" fill="none"/>
<path d="M790.2,128.6 V133.2 M785.0,128.6 H795.4 M785.0,133.2 H795.4" stroke="#000" stroke-width="1.8" fill="none"/>
<path d="M838.4,125.3 V132.0 M833.2,125.3 H843.6 M833.2,132.0 H843.6" stroke="#000" stroke-width="1.8" fill="none"/>
<path d="M886.7,97.0 V101.6 M881.5,97.0 H891.9 M881.5,101.6 H891.9" stroke="#000" stroke-width="1.8" fill="none"/>
<path d="M548.9,124.1 V128.6 M543.7,124.1 H554.1 M543.7,128.6 H554.1" stroke="#000" stroke-width="1.8" fill="none"/>
<path d="M597.1,129.8 V134.3 M591.9,129.8 H602.3 M591.9,134.3 H602.3" stroke="#000" stroke-width="1.8" fill="none"/>
<path d="M645.4,120.7 V129.8 M640.2,120.7 H650.6 M640.2,129.8 H650.6" stroke="#000" stroke-width="1.8" fill="none"/>
<path d="M693.7,120.7 V127.5 M688.5,120.7 H698.9 M688.5,127.5 H698.9" stroke="#000" stroke-width="1.8" fill="none"/>
<path d="M741.9,119.6 V139.9 M736.7,119.6 H747.1 M736.7,139.9 H747.1" stroke="#000" stroke-width="1.8" fill="none"/>
<path d="M790.2,125.3 V129.8 M785.0,125.3 H795.4 M785.0,129.8 H795.4" stroke="#000" stroke-width="1.8" fill="none"/>
<path d="M838.4,126.4 V130.9 M833.2,126.4 H843.6 M833.2,130.9 H843.6" stroke="#000" stroke-width="1.8" fill="none"/>
<path d="M886.7,101.6 V106.1 M881.5,101.6 H891.9 M881.5,106.1 H891.9" stroke="#000" stroke-width="1.8" fill="none"/>
<path d="M548.9,123.0 V127.5 M543.7,123.0 H554.1 M543.7,127.5 H554.1" stroke="#000" stroke-width="1.8" fill="none"/>
<path d="M597.1,129.8 V134.3 M591.9,129.8 H602.3 M591.9,134.3 H602.3" stroke="#000" stroke-width="1.8" fill="none"/>
<path d="M645.4,125.3 V132.0 M640.2,125.3 H650.6 M640.2,132.0 H650.6" stroke="#000" stroke-width="1.8" fill="none"/>
<path d="M693.7,119.6 V126.4 M688.5,119.6 H698.9 M688.5,126.4 H698.9" stroke="#000" stroke-width="1.8" fill="none"/>
<path d="M741.9,128.6 V133.2 M736.7,128.6 H747.1 M736.7,133.2 H747.1" stroke="#000" stroke-width="1.8" fill="none"/>
<path d="M790.2,124.1 V128.6 M785.0,124.1 H795.4 M785.0,128.6 H795.4" stroke="#000" stroke-width="1.8" fill="none"/>
<path d="M838.4,125.3 V129.8 M833.2,125.3 H843.6 M833.2,129.8 H843.6" stroke="#000" stroke-width="1.8" fill="none"/>
<path d="M886.7,106.1 V110.6 M881.5,106.1 H891.9 M881.5,110.6 H891.9" stroke="#000" stroke-width="1.8" fill="none"/>
<path d="M548.9,120.7 V125.3 M543.7,120.7 H554.1 M543.7,125.3 H554.1" stroke="#000" stroke-width="1.8" fill="none"/>
<path d="M597.1,128.6 V133.2 M591.9,128.6 H602.3 M591.9,133.2 H602.3" stroke="#000" stroke-width="1.8" fill="none"/>
<path d="M645.4,130.9 V137.7 M640.2,130.9 H650.6 M640.2,137.7 H650.6" stroke="#000" stroke-width="1.8" fill="none"/>
<path d="M693.7,132.0 V143.3 M688.5,132.0 H698.9 M688.5,143.3 H698.9" stroke="#000" stroke-width="1.8" fill="none"/>
<path d="M741.9,134.3 V156.9 M736.7,134.3 H747.1 M736.7,156.9 H747.1" stroke="#000" stroke-width="1.8" fill="none"/>
<path d="M790.2,135.4 V142.2 M785.0,135.4 H795.4 M785.0,142.2 H795.4" stroke="#000" stroke-width="1.8" fill="none"/>
<path d="M838.4,129.8 V136.6 M833.2,129.8 H843.6 M833.2,136.6 H843.6" stroke="#000" stroke-width="1.8" fill="none"/>
<path d="M886.7,108.3 V112.8 M881.5,108.3 H891.9 M881.5,112.8 H891.9" stroke="#000" stroke-width="1.8" fill="none"/>
<path d="M548.9,125.3 V129.8 M543.7,125.3 H554.1 M543.7,129.8 H554.1" stroke="#000" stroke-width="1.8" fill="none"/>
<path d="M597.1,129.8 V134.3 M591.9,129.8 H602.3 M591.9,134.3 H602.3" stroke="#000" stroke-width="1.8" fill="none"/>
<path d="M645.4,127.5 V154.6 M640.2,127.5 H650.6 M640.2,154.6 H650.6" stroke="#000" stroke-width="1.8" fill="none"/>
<path d="M693.7,136.6 V143.3 M688.5,136.6 H698.9 M688.5,143.3 H698.9" stroke="#000" stroke-width="1.8" fill="none"/>
<path d="M741.9,141.1 V145.6 M736.7,141.1 H747.1 M736.7,145.6 H747.1" stroke="#000" stroke-width="1.8" fill="none"/>
<path d="M790.2,132.0 V136.6 M785.0,132.0 H795.4 M785.0,136.6 H795.4" stroke="#000" stroke-width="1.8" fill="none"/>
<path d="M838.4,154.6 V161.4 M833.2,154.6 H843.6 M833.2,161.4 H843.6" stroke="#000" stroke-width="1.8" fill="none"/>
<path d="M886.7,99.3 V103.8 M881.5,99.3 H891.9 M881.5,103.8 H891.9" stroke="#000" stroke-width="1.8" fill="none"/>
<path d="M838.4,247.2 V263.0 M833.2,247.2 H843.6 M833.2,263.0 H843.6" stroke="#000" stroke-width="1.8" fill="none"/>
<rect x="460" y="203" width="225" height="196" fill="#fff"/>
<line x1="463.4" y1="217.0" x2="490.3" y2="217.0" stroke="#000" stroke-width="2.2"/>
<polygon points="476.9,212.3 481.6,217.0 476.9,221.7 472.2,217.0" fill="#fff" stroke="#000" stroke-width="2.1"/>
<text x="507.4" y="225.2" font-size="25.5" textLength="173.0" lengthAdjust="spacingAndGlyphs">hSp17 (111-124)</text>
<line x1="463.4" y1="239.7" x2="490.3" y2="239.7" stroke="#000" stroke-width="2.2"/>
<polygon points="476.9,234.7 481.9,243.4 471.9,243.4" fill="#000"/>
<text x="507.4" y="247.9" font-size="25.5" textLength="173.0" lengthAdjust="spacingAndGlyphs">hSp17 (121-138)</text>
<line x1="463.4" y1="262.1" x2="490.3" y2="262.1" stroke="#000" stroke-width="2.2"/>
<circle cx="476.9" cy="262.1" r="4.4" fill="#fff" stroke="#000" stroke-width="2.1"/>
<text x="507.4" y="270.3" font-size="25.5" textLength="173.0" lengthAdjust="spacingAndGlyphs">hSp17 (131-142)</text>
<line x1="463.4" y1="285.8" x2="490.3" y2="285.8" stroke="#000" stroke-width="2.2"/>
<polygon points="476.9,290.8 481.9,282.1 471.9,282.1" fill="#000"/>
<text x="507.4" y="294.0" font-size="25.5" textLength="173.0" lengthAdjust="spacingAndGlyphs">hSp17 (116-124)</text>
<line x1="463.4" y1="312.2" x2="490.3" y2="312.2" stroke="#000" stroke-width="2.2"/>
<rect x="472.5" y="307.8" width="8.8" height="8.8" fill="#fff" stroke="#000" stroke-width="2.1"/>
<text x="507.4" y="320.4" font-size="25.5" textLength="173.0" lengthAdjust="spacingAndGlyphs">hSp17 (134-142)</text>
<line x1="463.4" y1="337.3" x2="490.3" y2="337.3" stroke="#000" stroke-width="2.2"/>
<g stroke="#000" stroke-width="2.2"><line x1="471.6" y1="337.3" x2="482.1" y2="337.3"/><line x1="476.9" y1="332.0" x2="476.9" y2="342.6"/><line x1="473.0" y1="333.5" x2="480.7" y2="341.1"/><line x1="473.0" y1="341.1" x2="480.7" y2="333.5"/></g>
<circle cx="476.9" cy="337.3" r="2.9" fill="#000"/>
<text x="507.4" y="345.5" font-size="25.5" textLength="173.0" lengthAdjust="spacingAndGlyphs">hSp17 (118-126)</text>
<line x1="463.4" y1="363.0" x2="490.3" y2="363.0" stroke="#000" stroke-width="2.2"/>
<circle cx="476.9" cy="363.0" r="4.4" fill="#fff" stroke="#000" stroke-width="2.1"/>
<text x="507.4" y="371.2" font-size="25.5" textLength="173.0" lengthAdjust="spacingAndGlyphs">hSp17 (128-136)</text>
<line x1="463.4" y1="386.6" x2="490.3" y2="386.6" stroke="#000" stroke-width="2.2"/>
<circle cx="476.9" cy="386.6" r="4.8" fill="#000"/>
<text x="507.4" y="394.8" font-size="25.5" textLength="173.0" lengthAdjust="spacingAndGlyphs">hSp17 (111-142)</text>
<text x="81.1" y="700.5" font-size="24.5">B</text>
<text x="309.0" y="688.6" font-size="24" textLength="381.0" lengthAdjust="spacingAndGlyphs">Peptide sub-fragments recognition II</text>
<text x="191.4" y="737.5" font-size="24.5" textLength="64.5" lengthAdjust="spacingAndGlyphs">hSp17</text>
<text x="256.4" y="742.8" font-size="18" textLength="60.4" lengthAdjust="spacingAndGlyphs">111-142</text>
<text x="316.7" y="737.5" font-size="24.5" textLength="80.7" lengthAdjust="spacingAndGlyphs">-PSNPs</text>
<text x="637.7" y="736.9" font-size="24.5" textLength="64.2" lengthAdjust="spacingAndGlyphs">hSp17</text>
<text x="702.4" y="742.2" font-size="18" textLength="59.7" lengthAdjust="spacingAndGlyphs">111-142</text>
<text x="762.0" y="736.9" font-size="24.5" textLength="62.4" lengthAdjust="spacingAndGlyphs">+CpG</text>
<g stroke="#000" stroke-width="2.7" fill="none" stroke-linecap="square">
<line x1="92.6" y1="736.4" x2="92.6" y2="1185.3"/>
<line x1="906.6" y1="736.4" x2="906.6" y2="1185.3"/>
<line x1="92.6" y1="1185.3" x2="906.6" y2="1185.3"/>
</g>
<g stroke="#000" stroke-width="2.5" fill="none">
<line x1="85.6" y1="1185.3" x2="92.6" y2="1185.3"/>
<line x1="906.6" y1="1185.3" x2="914.6" y2="1185.3"/>
<line x1="85.6" y1="1129.2" x2="92.6" y2="1129.2"/>
<line x1="906.6" y1="1129.2" x2="914.6" y2="1129.2"/>
<line x1="85.6" y1="1073.1" x2="92.6" y2="1073.1"/>
<line x1="906.6" y1="1073.1" x2="914.6" y2="1073.1"/>
<line x1="85.6" y1="1017.0" x2="92.6" y2="1017.0"/>
<line x1="906.6" y1="1017.0" x2="914.6" y2="1017.0"/>
<line x1="85.6" y1="960.8" x2="92.6" y2="960.8"/>
<line x1="906.6" y1="960.8" x2="914.6" y2="960.8"/>
<line x1="85.6" y1="904.7" x2="92.6" y2="904.7"/>
<line x1="906.6" y1="904.7" x2="914.6" y2="904.7"/>
<line x1="85.6" y1="848.6" x2="92.6" y2="848.6"/>
<line x1="906.6" y1="848.6" x2="914.6" y2="848.6"/>
<line x1="85.6" y1="792.5" x2="92.6" y2="792.5"/>
<line x1="906.6" y1="792.5" x2="914.6" y2="792.5"/>
<line x1="85.6" y1="736.4" x2="92.6" y2="736.4"/>
<line x1="906.6" y1="736.4" x2="914.6" y2="736.4"/>
<line x1="116.6" y1="1185.3" x2="116.6" y2="1192.3"/>
<line x1="164.4" y1="1185.3" x2="164.4" y2="1192.3"/>
<line x1="212.3" y1="1185.3" x2="212.3" y2="1192.3"/>
<line x1="260.1" y1="1185.3" x2="260.1" y2="1192.3"/>
<line x1="308.0" y1="1185.3" x2="308.0" y2="1192.3"/>
<line x1="355.9" y1="1185.3" x2="355.9" y2="1192.3"/>
<line x1="403.7" y1="1185.3" x2="403.7" y2="1192.3"/>
<line x1="451.5" y1="1185.3" x2="451.5" y2="1192.3"/>
<line x1="499.4" y1="1185.3" x2="499.4" y2="1192.3"/>
<line x1="547.2" y1="1185.3" x2="547.2" y2="1192.3"/>
<line x1="595.1" y1="1185.3" x2="595.1" y2="1192.3"/>
<line x1="643.0" y1="1185.3" x2="643.0" y2="1192.3"/>
<line x1="690.8" y1="1185.3" x2="690.8" y2="1192.3"/>
<line x1="738.7" y1="1185.3" x2="738.7" y2="1192.3"/>
<line x1="786.5" y1="1185.3" x2="786.5" y2="1192.3"/>
<line x1="834.4" y1="1185.3" x2="834.4" y2="1192.3"/>
<line x1="882.2" y1="1185.3" x2="882.2" y2="1192.3"/>
</g>
<text x="81.6" y="1193.9" font-size="27.5" text-anchor="end" textLength="30.5" lengthAdjust="spacingAndGlyphs">0.0</text>
<text x="918.6" y="1193.9" font-size="27.5" textLength="30.5" lengthAdjust="spacingAndGlyphs">0.0</text>
<text x="81.6" y="1137.8" font-size="27.5" text-anchor="end" textLength="30.5" lengthAdjust="spacingAndGlyphs">0.5</text>
<text x="918.6" y="1137.8" font-size="27.5" textLength="30.5" lengthAdjust="spacingAndGlyphs">0.5</text>
<text x="81.6" y="1081.7" font-size="27.5" text-anchor="end" textLength="30.5" lengthAdjust="spacingAndGlyphs">1.0</text>
<text x="918.6" y="1081.7" font-size="27.5" textLength="30.5" lengthAdjust="spacingAndGlyphs">1.0</text>
<text x="81.6" y="1025.6" font-size="27.5" text-anchor="end" textLength="30.5" lengthAdjust="spacingAndGlyphs">1.5</text>
<text x="918.6" y="1025.6" font-size="27.5" textLength="30.5" lengthAdjust="spacingAndGlyphs">1.5</text>
<text x="81.6" y="969.4" font-size="27.5" text-anchor="end" textLength="30.5" lengthAdjust="spacingAndGlyphs">2.0</text>
<text x="918.6" y="969.4" font-size="27.5" textLength="30.5" lengthAdjust="spacingAndGlyphs">2.0</text>
<text x="81.6" y="913.3" font-size="27.5" text-anchor="end" textLength="30.5" lengthAdjust="spacingAndGlyphs">2.5</text>
<text x="918.6" y="913.3" font-size="27.5" textLength="30.5" lengthAdjust="spacingAndGlyphs">2.5</text>
<text x="81.6" y="857.2" font-size="27.5" text-anchor="end" textLength="30.5" lengthAdjust="spacingAndGlyphs">3.0</text>
<text x="918.6" y="857.2" font-size="27.5" textLength="30.5" lengthAdjust="spacingAndGlyphs">3.0</text>
<text x="81.6" y="801.1" font-size="27.5" text-anchor="end" textLength="30.5" lengthAdjust="spacingAndGlyphs">3.5</text>
<text x="918.6" y="801.1" font-size="27.5" textLength="30.5" lengthAdjust="spacingAndGlyphs">3.5</text>
<text x="81.6" y="745.0" font-size="27.5" text-anchor="end" textLength="30.5" lengthAdjust="spacingAndGlyphs">4.0</text>
<text x="918.6" y="745.0" font-size="27.5" textLength="30.5" lengthAdjust="spacingAndGlyphs">4.0</text>
<text transform="translate(125.0,1195.5) rotate(-90)" font-size="25.5" text-anchor="end" textLength="23.52" lengthAdjust="spacingAndGlyphs">10</text>
<text transform="translate(172.8,1195.5) rotate(-90)" font-size="25.5" text-anchor="end" textLength="11.76" lengthAdjust="spacingAndGlyphs">5</text>
<text transform="translate(220.7,1195.5) rotate(-90)" font-size="25.5" text-anchor="end" textLength="29.4" lengthAdjust="spacingAndGlyphs">2.5</text>
<text transform="translate(268.5,1195.5) rotate(-90)" font-size="25.5" text-anchor="end" textLength="41.16" lengthAdjust="spacingAndGlyphs">1.25</text>
<text transform="translate(316.4,1195.5) rotate(-90)" font-size="25.5" text-anchor="end" textLength="41.16" lengthAdjust="spacingAndGlyphs">0.63</text>
<text transform="translate(364.2,1195.5) rotate(-90)" font-size="25.5" text-anchor="end" textLength="41.16" lengthAdjust="spacingAndGlyphs">0.31</text>
<text transform="translate(412.1,1195.5) rotate(-90)" font-size="25.5" text-anchor="end" textLength="41.16" lengthAdjust="spacingAndGlyphs">0.16</text>
<text transform="translate(459.9,1195.5) rotate(-90)" font-size="25.5" text-anchor="end" textLength="11.76" lengthAdjust="spacingAndGlyphs">0</text>
<text transform="translate(555.6,1195.5) rotate(-90)" font-size="25.5" text-anchor="end" textLength="23.52" lengthAdjust="spacingAndGlyphs">10</text>
<text transform="translate(603.5,1195.5) rotate(-90)" font-size="25.5" text-anchor="end" textLength="11.76" lengthAdjust="spacingAndGlyphs">5</text>
<text transform="translate(651.4,1195.5) rotate(-90)" font-size="25.5" text-anchor="end" textLength="29.4" lengthAdjust="spacingAndGlyphs">2.5</text>
<text transform="translate(699.2,1195.5) rotate(-90)" font-size="25.5" text-anchor="end" textLength="41.16" lengthAdjust="spacingAndGlyphs">1.25</text>
<text transform="translate(747.1,1195.5) rotate(-90)" font-size="25.5" text-anchor="end" textLength="41.16" lengthAdjust="spacingAndGlyphs">0.63</text>
<text transform="translate(794.9,1195.5) rotate(-90)" font-size="25.5" text-anchor="end" textLength="41.16" lengthAdjust="spacingAndGlyphs">0.31</text>
<text transform="translate(842.8,1195.5) rotate(-90)" font-size="25.5" text-anchor="end" textLength="41.16" lengthAdjust="spacingAndGlyphs">0.16</text>
<text transform="translate(890.6,1195.5) rotate(-90)" font-size="25.5" text-anchor="end" textLength="11.76" lengthAdjust="spacingAndGlyphs">0</text>
<text transform="translate(31.9,1005.6) rotate(-90)" font-size="26.5" textLength="37.2" lengthAdjust="spacingAndGlyphs">OD</text>
<text transform="translate(37.0,968.4) rotate(-90)" font-size="18" textLength="57.7" lengthAdjust="spacingAndGlyphs">450 nm</text>
<text transform="translate(990.4,910.9) rotate(90)" font-size="26.5" textLength="36.7" lengthAdjust="spacingAndGlyphs">OD</text>
<text transform="translate(984.8,948.1) rotate(90)" font-size="18" textLength="56.7" lengthAdjust="spacingAndGlyphs">450 nm</text>
<text x="340.3" y="1267.3" font-size="24" textLength="320.0" lengthAdjust="spacingAndGlyphs">Peptide concentration (µ g/mL)</text>
<path d="M116.6,949.6 L164.4,947.4 L212.3,946.3 L260.1,947.4 L308.0,953.0 L355.9,953.0 L403.7,948.5 L451.5,896.9" fill="none" stroke="#000" stroke-width="2.0" stroke-linejoin="round"/>
<path d="M116.6,922.7 L164.4,926.1 L212.3,917.1 L260.1,930.5 L308.0,921.6 L355.9,932.8 L403.7,936.2 L451.5,901.4" fill="none" stroke="#000" stroke-width="2.0" stroke-linejoin="round"/>
<path d="M116.6,903.6 L164.4,901.4 L212.3,890.1 L260.1,896.9 L308.0,910.3 L355.9,899.1 L403.7,894.6 L451.5,859.8" fill="none" stroke="#000" stroke-width="2.0" stroke-linejoin="round"/>
<path d="M116.6,891.3 L164.4,895.8 L212.3,893.5 L260.1,891.3 L308.0,899.1 L355.9,891.3 L403.7,896.9 L451.5,854.2" fill="none" stroke="#000" stroke-width="2.0" stroke-linejoin="round"/>
<path d="M116.6,899.1 L164.4,904.7 L212.3,919.3 L260.1,916.0 L308.0,916.0 L355.9,920.4 L403.7,917.1 L451.5,862.1" fill="none" stroke="#000" stroke-width="2.0" stroke-linejoin="round"/>
<path d="M116.6,963.1 L164.4,949.6 L212.3,947.4 L260.1,944.0 L308.0,927.2 L355.9,944.0 L403.7,908.1 L451.5,871.1" fill="none" stroke="#000" stroke-width="2.0" stroke-linejoin="round"/>
<path d="M116.6,908.1 L164.4,899.1 L212.3,919.3 L260.1,910.3 L308.0,916.0 L355.9,904.7 L403.7,908.1 L451.5,866.6" fill="none" stroke="#000" stroke-width="2.0" stroke-linejoin="round"/>
<path d="M116.6,886.8 L164.4,891.3 L212.3,899.1 L260.1,886.8 L308.0,891.3 L355.9,886.8 L403.7,899.1 L451.5,850.9" fill="none" stroke="#000" stroke-width="2.0" stroke-linejoin="round"/>
<path d="M116.6,1166.8 L164.4,1166.8 L212.3,1168.5 L260.1,1169.6 L308.0,1168.5 L355.9,1160.6 L403.7,1148.3 L451.5,900.2" fill="none" stroke="#000" stroke-width="2.0" stroke-linejoin="round"/>
<line x1="116.6" y1="946.1" x2="116.6" y2="953.1" stroke="#000" stroke-width="1.6"/>
<line x1="164.4" y1="943.9" x2="164.4" y2="950.9" stroke="#000" stroke-width="1.6"/>
<line x1="212.3" y1="942.8" x2="212.3" y2="949.8" stroke="#000" stroke-width="1.6"/>
<line x1="260.1" y1="943.9" x2="260.1" y2="950.9" stroke="#000" stroke-width="1.6"/>
<line x1="308.0" y1="949.5" x2="308.0" y2="956.5" stroke="#000" stroke-width="1.6"/>
<line x1="355.9" y1="949.5" x2="355.9" y2="956.5" stroke="#000" stroke-width="1.6"/>
<line x1="403.7" y1="945.0" x2="403.7" y2="952.0" stroke="#000" stroke-width="1.6"/>
<line x1="451.5" y1="893.4" x2="451.5" y2="900.4" stroke="#000" stroke-width="1.6"/>
<g stroke="#000" stroke-width="2.2"><line x1="111.6" y1="922.7" x2="121.6" y2="922.7"/><line x1="116.6" y1="917.7" x2="116.6" y2="927.7"/><line x1="113.0" y1="919.1" x2="120.2" y2="926.3"/><line x1="113.0" y1="926.3" x2="120.2" y2="919.1"/></g>
<circle cx="116.6" cy="922.7" r="2.8" fill="#000"/>
<g stroke="#000" stroke-width="2.2"><line x1="159.4" y1="926.1" x2="169.5" y2="926.1"/><line x1="164.4" y1="921.0" x2="164.4" y2="931.1"/><line x1="160.8" y1="922.4" x2="168.1" y2="929.7"/><line x1="160.8" y1="929.7" x2="168.1" y2="922.4"/></g>
<circle cx="164.4" cy="926.1" r="2.8" fill="#000"/>
<g stroke="#000" stroke-width="2.2"><line x1="207.3" y1="917.1" x2="217.3" y2="917.1"/><line x1="212.3" y1="912.1" x2="212.3" y2="922.1"/><line x1="208.7" y1="913.5" x2="215.9" y2="920.7"/><line x1="208.7" y1="920.7" x2="215.9" y2="913.5"/></g>
<circle cx="212.3" cy="917.1" r="2.8" fill="#000"/>
<g stroke="#000" stroke-width="2.2"><line x1="255.1" y1="930.5" x2="265.2" y2="930.5"/><line x1="260.1" y1="925.5" x2="260.1" y2="935.6"/><line x1="256.5" y1="926.9" x2="263.8" y2="934.2"/><line x1="256.5" y1="934.2" x2="263.8" y2="926.9"/></g>
<circle cx="260.1" cy="930.5" r="2.8" fill="#000"/>
<g stroke="#000" stroke-width="2.2"><line x1="303.0" y1="921.6" x2="313.0" y2="921.6"/><line x1="308.0" y1="916.5" x2="308.0" y2="926.6"/><line x1="304.4" y1="918.0" x2="311.6" y2="925.2"/><line x1="304.4" y1="925.2" x2="311.6" y2="918.0"/></g>
<circle cx="308.0" cy="921.6" r="2.8" fill="#000"/>
<g stroke="#000" stroke-width="2.2"><line x1="350.8" y1="932.8" x2="360.9" y2="932.8"/><line x1="355.9" y1="927.8" x2="355.9" y2="937.8"/><line x1="352.2" y1="929.2" x2="359.5" y2="936.4"/><line x1="352.2" y1="936.4" x2="359.5" y2="929.2"/></g>
<circle cx="355.9" cy="932.8" r="2.8" fill="#000"/>
<g stroke="#000" stroke-width="2.2"><line x1="398.7" y1="936.2" x2="408.7" y2="936.2"/><line x1="403.7" y1="931.1" x2="403.7" y2="941.2"/><line x1="400.1" y1="932.5" x2="407.3" y2="939.8"/><line x1="400.1" y1="939.8" x2="407.3" y2="932.5"/></g>
<circle cx="403.7" cy="936.2" r="2.8" fill="#000"/>
<g stroke="#000" stroke-width="2.2"><line x1="446.5" y1="901.4" x2="456.6" y2="901.4"/><line x1="451.5" y1="896.3" x2="451.5" y2="906.4"/><line x1="447.9" y1="897.8" x2="455.2" y2="905.0"/><line x1="447.9" y1="905.0" x2="455.2" y2="897.8"/></g>
<circle cx="451.5" cy="901.4" r="2.8" fill="#000"/>
<rect x="112.4" y="899.4" width="8.3" height="8.3" fill="#fff" stroke="#000" stroke-width="2.1"/>
<rect x="160.3" y="897.2" width="8.3" height="8.3" fill="#fff" stroke="#000" stroke-width="2.1"/>
<rect x="208.1" y="886.0" width="8.3" height="8.3" fill="#fff" stroke="#000" stroke-width="2.1"/>
<rect x="256.0" y="892.7" width="8.3" height="8.3" fill="#fff" stroke="#000" stroke-width="2.1"/>
<rect x="303.8" y="906.2" width="8.3" height="8.3" fill="#fff" stroke="#000" stroke-width="2.1"/>
<rect x="351.7" y="895.0" width="8.3" height="8.3" fill="#fff" stroke="#000" stroke-width="2.1"/>
<rect x="399.5" y="890.5" width="8.3" height="8.3" fill="#fff" stroke="#000" stroke-width="2.1"/>
<rect x="447.4" y="855.7" width="8.3" height="8.3" fill="#fff" stroke="#000" stroke-width="2.1"/>
<polygon points="116.6,896.0 121.4,887.7 111.8,887.7" fill="#000"/>
<polygon points="164.4,900.5 169.2,892.2 159.7,892.2" fill="#000"/>
<polygon points="212.3,898.3 217.1,889.9 207.5,889.9" fill="#000"/>
<polygon points="260.1,896.0 264.9,887.7 255.4,887.7" fill="#000"/>
<polygon points="308.0,903.9 312.8,895.5 303.2,895.5" fill="#000"/>
<polygon points="355.9,896.0 360.6,887.7 351.1,887.7" fill="#000"/>
<polygon points="403.7,901.7 408.5,893.3 398.9,893.3" fill="#000"/>
<polygon points="451.5,859.0 456.3,850.7 446.8,850.7" fill="#000"/>
<circle cx="116.6" cy="899.1" r="4.2" fill="#fff" stroke="#000" stroke-width="2.1"/>
<circle cx="164.4" cy="904.7" r="4.2" fill="#fff" stroke="#000" stroke-width="2.1"/>
<circle cx="212.3" cy="919.3" r="4.2" fill="#fff" stroke="#000" stroke-width="2.1"/>
<circle cx="260.1" cy="916.0" r="4.2" fill="#fff" stroke="#000" stroke-width="2.1"/>
<circle cx="308.0" cy="916.0" r="4.2" fill="#fff" stroke="#000" stroke-width="2.1"/>
<circle cx="355.9" cy="920.4" r="4.2" fill="#fff" stroke="#000" stroke-width="2.1"/>
<circle cx="403.7" cy="917.1" r="4.2" fill="#fff" stroke="#000" stroke-width="2.1"/>
<circle cx="451.5" cy="862.1" r="4.2" fill="#fff" stroke="#000" stroke-width="2.1"/>
<polygon points="116.6,958.3 121.4,966.7 111.8,966.7" fill="#000"/>
<polygon points="164.4,944.9 169.2,953.2 159.7,953.2" fill="#000"/>
<polygon points="212.3,942.6 217.1,951.0 207.5,951.0" fill="#000"/>
<polygon points="260.1,939.2 264.9,947.6 255.4,947.6" fill="#000"/>
<polygon points="308.0,922.4 312.8,930.8 303.2,930.8" fill="#000"/>
<polygon points="355.9,939.2 360.6,947.6 351.1,947.6" fill="#000"/>
<polygon points="403.7,903.3 408.5,911.7 398.9,911.7" fill="#000"/>
<polygon points="451.5,866.3 456.3,874.6 446.8,874.6" fill="#000"/>
<polygon points="116.6,903.6 121.1,908.1 116.6,912.6 112.1,908.1" fill="#fff" stroke="#000" stroke-width="2.1"/>
<polygon points="164.4,894.7 168.9,899.1 164.4,903.6 160.0,899.1" fill="#fff" stroke="#000" stroke-width="2.1"/>
<polygon points="212.3,914.9 216.8,919.3 212.3,923.8 207.8,919.3" fill="#fff" stroke="#000" stroke-width="2.1"/>
<polygon points="260.1,905.9 264.6,910.3 260.1,914.8 255.7,910.3" fill="#fff" stroke="#000" stroke-width="2.1"/>
<polygon points="308.0,911.5 312.5,916.0 308.0,920.4 303.5,916.0" fill="#fff" stroke="#000" stroke-width="2.1"/>
<polygon points="355.9,900.3 360.3,904.7 355.9,909.2 351.4,904.7" fill="#fff" stroke="#000" stroke-width="2.1"/>
<polygon points="403.7,903.6 408.2,908.1 403.7,912.6 399.2,908.1" fill="#fff" stroke="#000" stroke-width="2.1"/>
<polygon points="451.5,862.1 456.0,866.6 451.5,871.1 447.1,866.6" fill="#fff" stroke="#000" stroke-width="2.1"/>
<polygon points="116.6,882.6 120.8,886.8 116.6,891.0 112.4,886.8" fill="#000"/>
<polygon points="164.4,887.1 168.6,891.3 164.4,895.4 160.3,891.3" fill="#000"/>
<polygon points="212.3,895.0 216.5,899.1 212.3,903.3 208.1,899.1" fill="#000"/>
<polygon points="260.1,882.6 264.3,886.8 260.1,891.0 256.0,886.8" fill="#000"/>
<polygon points="308.0,887.1 312.2,891.3 308.0,895.4 303.8,891.3" fill="#000"/>
<polygon points="355.9,882.6 360.0,886.8 355.9,891.0 351.7,886.8" fill="#000"/>
<polygon points="403.7,895.0 407.9,899.1 403.7,903.3 399.5,899.1" fill="#000"/>
<polygon points="451.5,846.7 455.7,850.9 451.5,855.0 447.4,850.9" fill="#000"/>
<circle cx="116.6" cy="1166.8" r="4.8" fill="#000"/>
<circle cx="164.4" cy="1166.8" r="4.8" fill="#000"/>
<circle cx="212.3" cy="1168.5" r="4.8" fill="#000"/>
<circle cx="260.1" cy="1169.6" r="4.8" fill="#000"/>
<circle cx="308.0" cy="1168.5" r="4.8" fill="#000"/>
<circle cx="355.9" cy="1160.6" r="4.8" fill="#000"/>
<circle cx="403.7" cy="1148.3" r="4.8" fill="#000"/>
<circle cx="451.5" cy="900.2" r="4.8" fill="#000"/>
<path d="M116.6,930.5 V968.7 M111.4,930.5 H121.8 M111.4,968.7 H121.8" stroke="#000" stroke-width="1.8" fill="none"/>
<path d="M164.4,930.5 V964.2 M159.2,930.5 H169.6 M159.2,964.2 H169.6" stroke="#000" stroke-width="1.8" fill="none"/>
<path d="M212.3,907.0 V985.5 M207.1,907.0 H217.5 M207.1,985.5 H217.5" stroke="#000" stroke-width="1.8" fill="none"/>
<path d="M260.1,911.5 V983.3 M254.9,911.5 H265.3 M254.9,983.3 H265.3" stroke="#000" stroke-width="1.8" fill="none"/>
<path d="M308.0,928.3 V977.7 M302.8,928.3 H313.2 M302.8,977.7 H313.2" stroke="#000" stroke-width="1.8" fill="none"/>
<path d="M355.9,917.1 V988.9 M350.7,917.1 H361.1 M350.7,988.9 H361.1" stroke="#000" stroke-width="1.8" fill="none"/>
<path d="M403.7,927.2 V969.8 M398.5,927.2 H408.9 M398.5,969.8 H408.9" stroke="#000" stroke-width="1.8" fill="none"/>
<path d="M451.5,891.3 V902.5 M446.3,891.3 H456.7 M446.3,902.5 H456.7" stroke="#000" stroke-width="1.8" fill="none"/>
<path d="M116.6,916.0 V929.4 M111.4,916.0 H121.8 M111.4,929.4 H121.8" stroke="#000" stroke-width="1.8" fill="none"/>
<path d="M164.4,919.3 V932.8 M159.2,919.3 H169.6 M159.2,932.8 H169.6" stroke="#000" stroke-width="1.8" fill="none"/>
<path d="M212.3,908.1 V926.1 M207.1,908.1 H217.5 M207.1,926.1 H217.5" stroke="#000" stroke-width="1.8" fill="none"/>
<path d="M260.1,923.8 V937.3 M254.9,923.8 H265.3 M254.9,937.3 H265.3" stroke="#000" stroke-width="1.8" fill="none"/>
<path d="M308.0,914.8 V928.3 M302.8,914.8 H313.2 M302.8,928.3 H313.2" stroke="#000" stroke-width="1.8" fill="none"/>
<path d="M355.9,927.2 V938.4 M350.7,927.2 H361.1 M350.7,938.4 H361.1" stroke="#000" stroke-width="1.8" fill="none"/>
<path d="M403.7,930.5 V941.8 M398.5,930.5 H408.9 M398.5,941.8 H408.9" stroke="#000" stroke-width="1.8" fill="none"/>
<path d="M451.5,895.8 V907.0 M446.3,895.8 H456.7 M446.3,907.0 H456.7" stroke="#000" stroke-width="1.8" fill="none"/>
<path d="M116.6,899.1 V908.1 M111.4,899.1 H121.8 M111.4,908.1 H121.8" stroke="#000" stroke-width="1.8" fill="none"/>
<path d="M164.4,896.9 V905.9 M159.2,896.9 H169.6 M159.2,905.9 H169.6" stroke="#000" stroke-width="1.8" fill="none"/>
<path d="M212.3,886.8 V893.5 M207.1,886.8 H217.5 M207.1,893.5 H217.5" stroke="#000" stroke-width="1.8" fill="none"/>
<path d="M260.1,892.4 V901.4 M254.9,892.4 H265.3 M254.9,901.4 H265.3" stroke="#000" stroke-width="1.8" fill="none"/>
<path d="M308.0,905.9 V914.8 M302.8,905.9 H313.2 M302.8,914.8 H313.2" stroke="#000" stroke-width="1.8" fill="none"/>
<path d="M355.9,894.6 V903.6 M350.7,894.6 H361.1 M350.7,903.6 H361.1" stroke="#000" stroke-width="1.8" fill="none"/>
<path d="M403.7,891.3 V898.0 M398.5,891.3 H408.9 M398.5,898.0 H408.9" stroke="#000" stroke-width="1.8" fill="none"/>
<path d="M451.5,854.2 V865.5 M446.3,854.2 H456.7 M446.3,865.5 H456.7" stroke="#000" stroke-width="1.8" fill="none"/>
<path d="M116.6,886.8 V895.8 M111.4,886.8 H121.8 M111.4,895.8 H121.8" stroke="#000" stroke-width="1.8" fill="none"/>
<path d="M164.4,892.4 V899.1 M159.2,892.4 H169.6 M159.2,899.1 H169.6" stroke="#000" stroke-width="1.8" fill="none"/>
<path d="M212.3,890.1 V896.9 M207.1,890.1 H217.5 M207.1,896.9 H217.5" stroke="#000" stroke-width="1.8" fill="none"/>
<path d="M260.1,886.8 V895.8 M254.9,886.8 H265.3 M254.9,895.8 H265.3" stroke="#000" stroke-width="1.8" fill="none"/>
<path d="M308.0,894.6 V903.6 M302.8,894.6 H313.2 M302.8,903.6 H313.2" stroke="#000" stroke-width="1.8" fill="none"/>
<path d="M355.9,886.8 V895.8 M350.7,886.8 H361.1 M350.7,895.8 H361.1" stroke="#000" stroke-width="1.8" fill="none"/>
<path d="M403.7,893.5 V900.2 M398.5,893.5 H408.9 M398.5,900.2 H408.9" stroke="#000" stroke-width="1.8" fill="none"/>
<path d="M451.5,843.0 V865.5 M446.3,843.0 H456.7 M446.3,865.5 H456.7" stroke="#000" stroke-width="1.8" fill="none"/>
<path d="M116.6,894.6 V903.6 M111.4,894.6 H121.8 M111.4,903.6 H121.8" stroke="#000" stroke-width="1.8" fill="none"/>
<path d="M164.4,900.2 V909.2 M159.2,900.2 H169.6 M159.2,909.2 H169.6" stroke="#000" stroke-width="1.8" fill="none"/>
<path d="M212.3,914.8 V923.8 M207.1,914.8 H217.5 M207.1,923.8 H217.5" stroke="#000" stroke-width="1.8" fill="none"/>
<path d="M260.1,911.5 V920.4 M254.9,911.5 H265.3 M254.9,920.4 H265.3" stroke="#000" stroke-width="1.8" fill="none"/>
<path d="M308.0,911.5 V920.4 M302.8,911.5 H313.2 M302.8,920.4 H313.2" stroke="#000" stroke-width="1.8" fill="none"/>
<path d="M355.9,916.0 V924.9 M350.7,916.0 H361.1 M350.7,924.9 H361.1" stroke="#000" stroke-width="1.8" fill="none"/>
<path d="M403.7,912.6 V921.6 M398.5,912.6 H408.9 M398.5,921.6 H408.9" stroke="#000" stroke-width="1.8" fill="none"/>
<path d="M451.5,856.5 V867.7 M446.3,856.5 H456.7 M446.3,867.7 H456.7" stroke="#000" stroke-width="1.8" fill="none"/>
<path d="M116.6,958.6 V967.6 M111.4,958.6 H121.8 M111.4,967.6 H121.8" stroke="#000" stroke-width="1.8" fill="none"/>
<path d="M164.4,945.1 V954.1 M159.2,945.1 H169.6 M159.2,954.1 H169.6" stroke="#000" stroke-width="1.8" fill="none"/>
<path d="M212.3,942.9 V951.9 M207.1,942.9 H217.5 M207.1,951.9 H217.5" stroke="#000" stroke-width="1.8" fill="none"/>
<path d="M260.1,939.5 V948.5 M254.9,939.5 H265.3 M254.9,948.5 H265.3" stroke="#000" stroke-width="1.8" fill="none"/>
<path d="M308.0,922.7 V931.7 M302.8,922.7 H313.2 M302.8,931.7 H313.2" stroke="#000" stroke-width="1.8" fill="none"/>
<path d="M355.9,939.5 V948.5 M350.7,939.5 H361.1 M350.7,948.5 H361.1" stroke="#000" stroke-width="1.8" fill="none"/>
<path d="M403.7,903.6 V912.6 M398.5,903.6 H408.9 M398.5,912.6 H408.9" stroke="#000" stroke-width="1.8" fill="none"/>
<path d="M451.5,862.1 V880.0 M446.3,862.1 H456.7 M446.3,880.0 H456.7" stroke="#000" stroke-width="1.8" fill="none"/>
<path d="M116.6,903.6 V912.6 M111.4,903.6 H121.8 M111.4,912.6 H121.8" stroke="#000" stroke-width="1.8" fill="none"/>
<path d="M164.4,894.6 V903.6 M159.2,894.6 H169.6 M159.2,903.6 H169.6" stroke="#000" stroke-width="1.8" fill="none"/>
<path d="M212.3,914.8 V923.8 M207.1,914.8 H217.5 M207.1,923.8 H217.5" stroke="#000" stroke-width="1.8" fill="none"/>
<path d="M260.1,905.9 V914.8 M254.9,905.9 H265.3 M254.9,914.8 H265.3" stroke="#000" stroke-width="1.8" fill="none"/>
<path d="M308.0,911.5 V920.4 M302.8,911.5 H313.2 M302.8,920.4 H313.2" stroke="#000" stroke-width="1.8" fill="none"/>
<path d="M355.9,900.2 V909.2 M350.7,900.2 H361.1 M350.7,909.2 H361.1" stroke="#000" stroke-width="1.8" fill="none"/>
<path d="M403.7,903.6 V912.6 M398.5,903.6 H408.9 M398.5,912.6 H408.9" stroke="#000" stroke-width="1.8" fill="none"/>
<path d="M451.5,861.0 V872.2 M446.3,861.0 H456.7 M446.3,872.2 H456.7" stroke="#000" stroke-width="1.8" fill="none"/>
<path d="M116.6,875.6 V898.0 M111.4,875.6 H121.8 M111.4,898.0 H121.8" stroke="#000" stroke-width="1.8" fill="none"/>
<path d="M164.4,887.9 V894.6 M159.2,887.9 H169.6 M159.2,894.6 H169.6" stroke="#000" stroke-width="1.8" fill="none"/>
<path d="M212.3,895.8 V902.5 M207.1,895.8 H217.5 M207.1,902.5 H217.5" stroke="#000" stroke-width="1.8" fill="none"/>
<path d="M260.1,882.3 V891.3 M254.9,882.3 H265.3 M254.9,891.3 H265.3" stroke="#000" stroke-width="1.8" fill="none"/>
<path d="M308.0,886.8 V895.8 M302.8,886.8 H313.2 M302.8,895.8 H313.2" stroke="#000" stroke-width="1.8" fill="none"/>
<path d="M355.9,883.4 V890.1 M350.7,883.4 H361.1 M350.7,890.1 H361.1" stroke="#000" stroke-width="1.8" fill="none"/>
<path d="M403.7,895.8 V902.5 M398.5,895.8 H408.9 M398.5,902.5 H408.9" stroke="#000" stroke-width="1.8" fill="none"/>
<path d="M451.5,843.0 V858.7 M446.3,843.0 H456.7 M446.3,858.7 H456.7" stroke="#000" stroke-width="1.8" fill="none"/>
<path d="M451.5,883.4 V917.1 M446.3,883.4 H456.7 M446.3,917.1 H456.7" stroke="#000" stroke-width="1.8" fill="none"/>
<path d="M547.2,753.2 L595.1,758.8 L643.0,754.4 L690.8,754.4 L738.7,754.4 L786.5,755.5 L834.4,755.5 L882.2,747.6" fill="none" stroke="#000" stroke-width="2.0" stroke-linejoin="round"/>
<path d="M547.2,758.8 L595.1,757.7 L643.0,755.5 L690.8,758.8 L738.7,760.0 L786.5,761.1 L834.4,758.8 L882.2,746.5" fill="none" stroke="#000" stroke-width="2.0" stroke-linejoin="round"/>
<path d="M547.2,761.1 L595.1,756.6 L643.0,753.2 L690.8,756.6 L738.7,757.7 L786.5,758.8 L834.4,763.3 L882.2,747.6" fill="none" stroke="#000" stroke-width="2.0" stroke-linejoin="round"/>
<path d="M547.2,756.6 L595.1,755.5 L643.0,754.4 L690.8,755.5 L738.7,756.6 L786.5,757.7 L834.4,761.1 L882.2,745.4" fill="none" stroke="#000" stroke-width="2.0" stroke-linejoin="round"/>
<path d="M547.2,767.8 L595.1,758.8 L643.0,756.6 L690.8,758.8 L738.7,761.1 L786.5,762.2 L834.4,764.5 L882.2,746.5" fill="none" stroke="#000" stroke-width="2.0" stroke-linejoin="round"/>
<path d="M547.2,754.4 L595.1,756.6 L643.0,755.5 L690.8,756.6 L738.7,758.8 L786.5,758.8 L834.4,760.0 L882.2,747.6" fill="none" stroke="#000" stroke-width="2.0" stroke-linejoin="round"/>
<path d="M547.2,764.5 L595.1,760.0 L643.0,757.7 L690.8,763.3 L738.7,767.8 L786.5,766.7 L834.4,762.2 L882.2,745.4" fill="none" stroke="#000" stroke-width="2.0" stroke-linejoin="round"/>
<path d="M547.2,758.8 L595.1,756.6 L643.0,756.6 L690.8,755.5 L738.7,756.6 L786.5,756.6 L834.4,758.8 L882.2,746.5" fill="none" stroke="#000" stroke-width="2.0" stroke-linejoin="round"/>
<path d="M547.2,1139.3 L595.1,1148.3 L643.0,1142.7 L690.8,1121.3 L738.7,1050.6 L786.5,927.2 L834.4,841.9 L882.2,744.3" fill="none" stroke="#000" stroke-width="2.0" stroke-linejoin="round"/>
<line x1="547.2" y1="749.7" x2="547.2" y2="756.7" stroke="#000" stroke-width="1.6"/>
<line x1="595.1" y1="755.3" x2="595.1" y2="762.3" stroke="#000" stroke-width="1.6"/>
<line x1="643.0" y1="750.9" x2="643.0" y2="757.9" stroke="#000" stroke-width="1.6"/>
<line x1="690.8" y1="750.9" x2="690.8" y2="757.9" stroke="#000" stroke-width="1.6"/>
<line x1="738.7" y1="750.9" x2="738.7" y2="757.9" stroke="#000" stroke-width="1.6"/>
<line x1="786.5" y1="752.0" x2="786.5" y2="759.0" stroke="#000" stroke-width="1.6"/>
<line x1="834.4" y1="752.0" x2="834.4" y2="759.0" stroke="#000" stroke-width="1.6"/>
<line x1="882.2" y1="744.1" x2="882.2" y2="751.1" stroke="#000" stroke-width="1.6"/>
<g stroke="#000" stroke-width="2.2"><line x1="542.2" y1="758.8" x2="552.3" y2="758.8"/><line x1="547.2" y1="753.8" x2="547.2" y2="763.9"/><line x1="543.6" y1="755.2" x2="550.9" y2="762.5"/><line x1="543.6" y1="762.5" x2="550.9" y2="755.2"/></g>
<circle cx="547.2" cy="758.8" r="2.8" fill="#000"/>
<g stroke="#000" stroke-width="2.2"><line x1="590.1" y1="757.7" x2="600.1" y2="757.7"/><line x1="595.1" y1="752.7" x2="595.1" y2="762.7"/><line x1="591.5" y1="754.1" x2="598.7" y2="761.3"/><line x1="591.5" y1="761.3" x2="598.7" y2="754.1"/></g>
<circle cx="595.1" cy="757.7" r="2.8" fill="#000"/>
<g stroke="#000" stroke-width="2.2"><line x1="637.9" y1="755.5" x2="648.0" y2="755.5"/><line x1="643.0" y1="750.5" x2="643.0" y2="760.5"/><line x1="639.3" y1="751.9" x2="646.6" y2="759.1"/><line x1="639.3" y1="759.1" x2="646.6" y2="751.9"/></g>
<circle cx="643.0" cy="755.5" r="2.8" fill="#000"/>
<g stroke="#000" stroke-width="2.2"><line x1="685.8" y1="758.8" x2="695.8" y2="758.8"/><line x1="690.8" y1="753.8" x2="690.8" y2="763.9"/><line x1="687.2" y1="755.2" x2="694.4" y2="762.5"/><line x1="687.2" y1="762.5" x2="694.4" y2="755.2"/></g>
<circle cx="690.8" cy="758.8" r="2.8" fill="#000"/>
<g stroke="#000" stroke-width="2.2"><line x1="733.6" y1="760.0" x2="743.7" y2="760.0"/><line x1="738.7" y1="754.9" x2="738.7" y2="765.0"/><line x1="735.0" y1="756.3" x2="742.3" y2="763.6"/><line x1="735.0" y1="763.6" x2="742.3" y2="756.3"/></g>
<circle cx="738.7" cy="760.0" r="2.8" fill="#000"/>
<g stroke="#000" stroke-width="2.2"><line x1="781.5" y1="761.1" x2="791.5" y2="761.1"/><line x1="786.5" y1="756.1" x2="786.5" y2="766.1"/><line x1="782.9" y1="757.5" x2="790.1" y2="764.7"/><line x1="782.9" y1="764.7" x2="790.1" y2="757.5"/></g>
<circle cx="786.5" cy="761.1" r="2.8" fill="#000"/>
<g stroke="#000" stroke-width="2.2"><line x1="829.3" y1="758.8" x2="839.4" y2="758.8"/><line x1="834.4" y1="753.8" x2="834.4" y2="763.9"/><line x1="830.7" y1="755.2" x2="838.0" y2="762.5"/><line x1="830.7" y1="762.5" x2="838.0" y2="755.2"/></g>
<circle cx="834.4" cy="758.8" r="2.8" fill="#000"/>
<g stroke="#000" stroke-width="2.2"><line x1="877.2" y1="746.5" x2="887.2" y2="746.5"/><line x1="882.2" y1="741.5" x2="882.2" y2="751.5"/><line x1="878.6" y1="742.9" x2="885.8" y2="750.1"/><line x1="878.6" y1="750.1" x2="885.8" y2="742.9"/></g>
<circle cx="882.2" cy="746.5" r="2.8" fill="#000"/>
<rect x="543.1" y="756.9" width="8.3" height="8.3" fill="#fff" stroke="#000" stroke-width="2.1"/>
<rect x="590.9" y="752.4" width="8.3" height="8.3" fill="#fff" stroke="#000" stroke-width="2.1"/>
<rect x="638.8" y="749.1" width="8.3" height="8.3" fill="#fff" stroke="#000" stroke-width="2.1"/>
<rect x="686.6" y="752.4" width="8.3" height="8.3" fill="#fff" stroke="#000" stroke-width="2.1"/>
<rect x="734.5" y="753.6" width="8.3" height="8.3" fill="#fff" stroke="#000" stroke-width="2.1"/>
<rect x="782.3" y="754.7" width="8.3" height="8.3" fill="#fff" stroke="#000" stroke-width="2.1"/>
<rect x="830.2" y="759.2" width="8.3" height="8.3" fill="#fff" stroke="#000" stroke-width="2.1"/>
<rect x="878.0" y="743.5" width="8.3" height="8.3" fill="#fff" stroke="#000" stroke-width="2.1"/>
<polygon points="547.2,761.4 552.0,753.0 542.5,753.0" fill="#000"/>
<polygon points="595.1,760.2 599.9,751.9 590.3,751.9" fill="#000"/>
<polygon points="643.0,759.1 647.7,750.8 638.2,750.8" fill="#000"/>
<polygon points="690.8,760.2 695.6,751.9 686.0,751.9" fill="#000"/>
<polygon points="738.7,761.4 743.4,753.0 733.9,753.0" fill="#000"/>
<polygon points="786.5,762.5 791.3,754.1 781.7,754.1" fill="#000"/>
<polygon points="834.4,765.9 839.1,757.5 829.6,757.5" fill="#000"/>
<polygon points="882.2,750.1 887.0,741.8 877.4,741.8" fill="#000"/>
<circle cx="547.2" cy="767.8" r="4.2" fill="#fff" stroke="#000" stroke-width="2.1"/>
<circle cx="595.1" cy="758.8" r="4.2" fill="#fff" stroke="#000" stroke-width="2.1"/>
<circle cx="643.0" cy="756.6" r="4.2" fill="#fff" stroke="#000" stroke-width="2.1"/>
<circle cx="690.8" cy="758.8" r="4.2" fill="#fff" stroke="#000" stroke-width="2.1"/>
<circle cx="738.7" cy="761.1" r="4.2" fill="#fff" stroke="#000" stroke-width="2.1"/>
<circle cx="786.5" cy="762.2" r="4.2" fill="#fff" stroke="#000" stroke-width="2.1"/>
<circle cx="834.4" cy="764.5" r="4.2" fill="#fff" stroke="#000" stroke-width="2.1"/>
<circle cx="882.2" cy="746.5" r="4.2" fill="#fff" stroke="#000" stroke-width="2.1"/>
<polygon points="547.2,749.6 552.0,757.9 542.5,757.9" fill="#000"/>
<polygon points="595.1,751.8 599.9,760.2 590.3,760.2" fill="#000"/>
<polygon points="643.0,750.7 647.7,759.1 638.2,759.1" fill="#000"/>
<polygon points="690.8,751.8 695.6,760.2 686.0,760.2" fill="#000"/>
<polygon points="738.7,754.1 743.4,762.4 733.9,762.4" fill="#000"/>
<polygon points="786.5,754.1 791.3,762.4 781.7,762.4" fill="#000"/>
<polygon points="834.4,755.2 839.1,763.5 829.6,763.5" fill="#000"/>
<polygon points="882.2,742.9 887.0,751.2 877.4,751.2" fill="#000"/>
<polygon points="547.2,760.0 551.7,764.5 547.2,768.9 542.8,764.5" fill="#fff" stroke="#000" stroke-width="2.1"/>
<polygon points="595.1,755.5 599.6,760.0 595.1,764.4 590.6,760.0" fill="#fff" stroke="#000" stroke-width="2.1"/>
<polygon points="643.0,753.3 647.4,757.7 643.0,762.2 638.5,757.7" fill="#fff" stroke="#000" stroke-width="2.1"/>
<polygon points="690.8,758.9 695.3,763.3 690.8,767.8 686.3,763.3" fill="#fff" stroke="#000" stroke-width="2.1"/>
<polygon points="738.7,763.4 743.1,767.8 738.7,772.3 734.2,767.8" fill="#fff" stroke="#000" stroke-width="2.1"/>
<polygon points="786.5,762.2 791.0,766.7 786.5,771.2 782.0,766.7" fill="#fff" stroke="#000" stroke-width="2.1"/>
<polygon points="834.4,757.7 838.8,762.2 834.4,766.7 829.9,762.2" fill="#fff" stroke="#000" stroke-width="2.1"/>
<polygon points="882.2,740.9 886.7,745.4 882.2,749.8 877.7,745.4" fill="#fff" stroke="#000" stroke-width="2.1"/>
<polygon points="547.2,754.7 551.4,758.8 547.2,763.0 543.1,758.8" fill="#000"/>
<polygon points="595.1,752.4 599.3,756.6 595.1,760.8 590.9,756.6" fill="#000"/>
<polygon points="643.0,752.4 647.1,756.6 643.0,760.8 638.8,756.6" fill="#000"/>
<polygon points="690.8,751.3 695.0,755.5 690.8,759.6 686.6,755.5" fill="#000"/>
<polygon points="738.7,752.4 742.8,756.6 738.7,760.8 734.5,756.6" fill="#000"/>
<polygon points="786.5,752.4 790.7,756.6 786.5,760.8 782.3,756.6" fill="#000"/>
<polygon points="834.4,754.7 838.5,758.8 834.4,763.0 830.2,758.8" fill="#000"/>
<polygon points="882.2,742.3 886.4,746.5 882.2,750.7 878.0,746.5" fill="#000"/>
<circle cx="547.2" cy="1139.3" r="4.8" fill="#000"/>
<circle cx="595.1" cy="1148.3" r="4.8" fill="#000"/>
<circle cx="643.0" cy="1142.7" r="4.8" fill="#000"/>
<circle cx="690.8" cy="1121.3" r="4.8" fill="#000"/>
<circle cx="738.7" cy="1050.6" r="4.8" fill="#000"/>
<circle cx="786.5" cy="927.2" r="4.8" fill="#000"/>
<circle cx="834.4" cy="841.9" r="4.8" fill="#000"/>
<circle cx="882.2" cy="744.3" r="4.8" fill="#000"/>
<path d="M547.2,755.5 V762.2 M542.0,755.5 H552.5 M542.0,762.2 H552.5" stroke="#000" stroke-width="1.8" fill="none"/>
<path d="M595.1,754.4 V761.1 M589.9,754.4 H600.3 M589.9,761.1 H600.3" stroke="#000" stroke-width="1.8" fill="none"/>
<path d="M643.0,752.1 V758.8 M637.8,752.1 H648.2 M637.8,758.8 H648.2" stroke="#000" stroke-width="1.8" fill="none"/>
<path d="M690.8,755.5 V762.2 M685.6,755.5 H696.0 M685.6,762.2 H696.0" stroke="#000" stroke-width="1.8" fill="none"/>
<path d="M738.7,756.6 V763.3 M733.5,756.6 H743.9 M733.5,763.3 H743.9" stroke="#000" stroke-width="1.8" fill="none"/>
<path d="M786.5,757.7 V764.5 M781.3,757.7 H791.7 M781.3,764.5 H791.7" stroke="#000" stroke-width="1.8" fill="none"/>
<path d="M834.4,755.5 V762.2 M829.1,755.5 H839.6 M829.1,762.2 H839.6" stroke="#000" stroke-width="1.8" fill="none"/>
<path d="M882.2,744.3 V748.7 M877.0,744.3 H887.4 M877.0,748.7 H887.4" stroke="#000" stroke-width="1.8" fill="none"/>
<path d="M547.2,761.1 V767.8 M542.0,761.1 H552.5 M542.0,767.8 H552.5" stroke="#000" stroke-width="1.8" fill="none"/>
<path d="M595.1,756.6 V763.3 M589.9,756.6 H600.3 M589.9,763.3 H600.3" stroke="#000" stroke-width="1.8" fill="none"/>
<path d="M643.0,754.4 V761.1 M637.8,754.4 H648.2 M637.8,761.1 H648.2" stroke="#000" stroke-width="1.8" fill="none"/>
<path d="M690.8,756.6 V770.1 M685.6,756.6 H696.0 M685.6,770.1 H696.0" stroke="#000" stroke-width="1.8" fill="none"/>
<path d="M738.7,756.6 V779.0 M733.5,756.6 H743.9 M733.5,779.0 H743.9" stroke="#000" stroke-width="1.8" fill="none"/>
<path d="M786.5,756.6 V776.8 M781.3,756.6 H791.7 M781.3,776.8 H791.7" stroke="#000" stroke-width="1.8" fill="none"/>
<path d="M834.4,758.8 V765.6 M829.1,758.8 H839.6 M829.1,765.6 H839.6" stroke="#000" stroke-width="1.8" fill="none"/>
<path d="M882.2,743.1 V747.6 M877.0,743.1 H887.4 M877.0,747.6 H887.4" stroke="#000" stroke-width="1.8" fill="none"/>
<path d="M547.2,1133.7 V1144.9 M542.0,1133.7 H552.5 M542.0,1144.9 H552.5" stroke="#000" stroke-width="1.8" fill="none"/>
<path d="M738.7,1037.2 V1064.1 M733.5,1037.2 H743.9 M733.5,1064.1 H743.9" stroke="#000" stroke-width="1.8" fill="none"/>
<path d="M786.5,922.7 V931.7 M781.3,922.7 H791.7 M781.3,931.7 H791.7" stroke="#000" stroke-width="1.8" fill="none"/>
<path d="M834.4,828.4 V855.4 M829.1,828.4 H839.6 M829.1,855.4 H839.6" stroke="#000" stroke-width="1.8" fill="none"/>
<line x1="493.6" y1="877.0" x2="521.7" y2="877.0" stroke="#000" stroke-width="2.2"/>
<line x1="507.7" y1="874.1" x2="507.7" y2="879.9" stroke="#000" stroke-width="1.6"/>
<text x="537.4" y="884.8" font-size="24.4" textLength="170.0" lengthAdjust="spacingAndGlyphs">hSp17 (111-116)</text>
<line x1="493.6" y1="898.5" x2="521.7" y2="898.5" stroke="#000" stroke-width="2.2"/>
<g stroke="#000" stroke-width="2.2"><line x1="503.4" y1="898.5" x2="511.9" y2="898.5"/><line x1="507.7" y1="894.3" x2="507.7" y2="902.7"/><line x1="504.6" y1="895.5" x2="510.7" y2="901.5"/><line x1="504.6" y1="901.5" x2="510.7" y2="895.5"/></g>
<circle cx="507.7" cy="898.5" r="2.3" fill="#000"/>
<text x="537.4" y="906.3" font-size="24.4" textLength="170.0" lengthAdjust="spacingAndGlyphs">hSp17 (130-137)</text>
<line x1="493.6" y1="920.0" x2="521.7" y2="920.0" stroke="#000" stroke-width="2.2"/>
<rect x="504.2" y="916.5" width="7.0" height="7.0" fill="#fff" stroke="#000" stroke-width="2.1"/>
<text x="537.4" y="927.8" font-size="24.4" textLength="170.0" lengthAdjust="spacingAndGlyphs">hSp17 (128-137)</text>
<line x1="493.6" y1="941.5" x2="521.7" y2="941.5" stroke="#000" stroke-width="2.2"/>
<polygon points="507.7,945.6 511.7,938.4 503.6,938.4" fill="#000"/>
<text x="537.4" y="949.3" font-size="24.4" textLength="170.0" lengthAdjust="spacingAndGlyphs">hSp17 (125-134)</text>
<line x1="493.6" y1="963.0" x2="521.7" y2="963.0" stroke="#000" stroke-width="2.2"/>
<circle cx="507.7" cy="963.0" r="3.5" fill="#fff" stroke="#000" stroke-width="2.1"/>
<text x="537.4" y="970.8" font-size="24.4" textLength="170.0" lengthAdjust="spacingAndGlyphs">hSp17 (121-128)</text>
<line x1="493.6" y1="984.5" x2="521.7" y2="984.5" stroke="#000" stroke-width="2.2"/>
<polygon points="507.7,980.4 511.7,987.6 503.6,987.6" fill="#000"/>
<text x="537.4" y="992.3" font-size="24.4" textLength="170.0" lengthAdjust="spacingAndGlyphs">hSp17 (116-124)</text>
<line x1="493.6" y1="1006.0" x2="521.7" y2="1006.0" stroke="#000" stroke-width="2.2"/>
<polygon points="507.7,1002.2 511.4,1006.0 507.7,1009.8 503.9,1006.0" fill="#fff" stroke="#000" stroke-width="2.1"/>
<text x="537.4" y="1013.8" font-size="24.4" textLength="170.0" lengthAdjust="spacingAndGlyphs">hSp17 (111-121)</text>
<line x1="493.6" y1="1027.5" x2="521.7" y2="1027.5" stroke="#000" stroke-width="2.2"/>
<polygon points="507.7,1024.0 511.1,1027.5 507.7,1031.0 504.2,1027.5" fill="#000"/>
<text x="537.4" y="1035.3" font-size="24.4" textLength="170.0" lengthAdjust="spacingAndGlyphs">hSp17 (135-138)</text>
<line x1="493.6" y1="1049.0" x2="521.7" y2="1049.0" stroke="#000" stroke-width="2.2"/>
<circle cx="507.7" cy="1049.0" r="3.9" fill="#000"/>
<text x="537.4" y="1056.8" font-size="24.4" textLength="170.0" lengthAdjust="spacingAndGlyphs">hSp17 (111-142)</text>
<text x="66.8" y="1345.0" font-size="25">C</text>
<text x="169.3" y="1341.0" font-size="24" textLength="676.0" lengthAdjust="spacingAndGlyphs">Cross-species antibody recognistion to mSp17 peptide fragments</text>
<text x="181.0" y="1402.5" font-size="24.5" textLength="66.2" lengthAdjust="spacingAndGlyphs">hSp17</text>
<text x="247.7" y="1407.8" font-size="18" textLength="59.6" lengthAdjust="spacingAndGlyphs">111-142</text>
<text x="307.2" y="1402.5" font-size="24.5" textLength="80.9" lengthAdjust="spacingAndGlyphs">-PSNPs</text>
<text x="629.0" y="1402.6" font-size="24.5" textLength="65.8" lengthAdjust="spacingAndGlyphs">hSp17</text>
<text x="695.3" y="1407.5" font-size="18" textLength="59.6" lengthAdjust="spacingAndGlyphs">111-142</text>
<text x="754.8" y="1402.6" font-size="24.5" textLength="63.6" lengthAdjust="spacingAndGlyphs">+CpG</text>
<g stroke="#000" stroke-width="2.7" fill="none" stroke-linecap="square">
<line x1="96.6" y1="1382.7" x2="96.6" y2="1834.3"/>
<line x1="916.7" y1="1382.7" x2="916.7" y2="1834.3"/>
<line x1="96.6" y1="1834.3" x2="916.7" y2="1834.3"/>
</g>
<g stroke="#000" stroke-width="2.5" fill="none">
<line x1="89.6" y1="1834.3" x2="96.6" y2="1834.3"/>
<line x1="916.7" y1="1834.3" x2="924.7" y2="1834.3"/>
<line x1="89.6" y1="1777.8" x2="96.6" y2="1777.8"/>
<line x1="916.7" y1="1777.8" x2="924.7" y2="1777.8"/>
<line x1="89.6" y1="1721.4" x2="96.6" y2="1721.4"/>
<line x1="916.7" y1="1721.4" x2="924.7" y2="1721.4"/>
<line x1="89.6" y1="1665.0" x2="96.6" y2="1665.0"/>
<line x1="916.7" y1="1665.0" x2="924.7" y2="1665.0"/>
<line x1="89.6" y1="1608.5" x2="96.6" y2="1608.5"/>
<line x1="916.7" y1="1608.5" x2="924.7" y2="1608.5"/>
<line x1="89.6" y1="1552.0" x2="96.6" y2="1552.0"/>
<line x1="916.7" y1="1552.0" x2="924.7" y2="1552.0"/>
<line x1="89.6" y1="1495.6" x2="96.6" y2="1495.6"/>
<line x1="916.7" y1="1495.6" x2="924.7" y2="1495.6"/>
<line x1="89.6" y1="1439.2" x2="96.6" y2="1439.2"/>
<line x1="916.7" y1="1439.2" x2="924.7" y2="1439.2"/>
<line x1="89.6" y1="1382.7" x2="96.6" y2="1382.7"/>
<line x1="916.7" y1="1382.7" x2="924.7" y2="1382.7"/>
<line x1="120.1" y1="1834.3" x2="120.1" y2="1841.3"/>
<line x1="168.3" y1="1834.3" x2="168.3" y2="1841.3"/>
<line x1="216.6" y1="1834.3" x2="216.6" y2="1841.3"/>
<line x1="264.8" y1="1834.3" x2="264.8" y2="1841.3"/>
<line x1="313.0" y1="1834.3" x2="313.0" y2="1841.3"/>
<line x1="361.2" y1="1834.3" x2="361.2" y2="1841.3"/>
<line x1="409.5" y1="1834.3" x2="409.5" y2="1841.3"/>
<line x1="457.7" y1="1834.3" x2="457.7" y2="1841.3"/>
<line x1="505.9" y1="1834.3" x2="505.9" y2="1841.3"/>
<line x1="554.1" y1="1834.3" x2="554.1" y2="1841.3"/>
<line x1="602.4" y1="1834.3" x2="602.4" y2="1841.3"/>
<line x1="650.6" y1="1834.3" x2="650.6" y2="1841.3"/>
<line x1="698.8" y1="1834.3" x2="698.8" y2="1841.3"/>
<line x1="747.0" y1="1834.3" x2="747.0" y2="1841.3"/>
<line x1="795.2" y1="1834.3" x2="795.2" y2="1841.3"/>
<line x1="843.5" y1="1834.3" x2="843.5" y2="1841.3"/>
<line x1="891.7" y1="1834.3" x2="891.7" y2="1841.3"/>
</g>
<text x="85.6" y="1842.9" font-size="27.5" text-anchor="end" textLength="30.5" lengthAdjust="spacingAndGlyphs">0.0</text>
<text x="928.7" y="1842.9" font-size="27.5" textLength="30.5" lengthAdjust="spacingAndGlyphs">0.0</text>
<text x="85.6" y="1786.4" font-size="27.5" text-anchor="end" textLength="30.5" lengthAdjust="spacingAndGlyphs">0.5</text>
<text x="928.7" y="1786.4" font-size="27.5" textLength="30.5" lengthAdjust="spacingAndGlyphs">0.5</text>
<text x="85.6" y="1730.0" font-size="27.5" text-anchor="end" textLength="30.5" lengthAdjust="spacingAndGlyphs">1.0</text>
<text x="928.7" y="1730.0" font-size="27.5" textLength="30.5" lengthAdjust="spacingAndGlyphs">1.0</text>
<text x="85.6" y="1673.5" font-size="27.5" text-anchor="end" textLength="30.5" lengthAdjust="spacingAndGlyphs">1.5</text>
<text x="928.7" y="1673.5" font-size="27.5" textLength="30.5" lengthAdjust="spacingAndGlyphs">1.5</text>
<text x="85.6" y="1617.1" font-size="27.5" text-anchor="end" textLength="30.5" lengthAdjust="spacingAndGlyphs">2.0</text>
<text x="928.7" y="1617.1" font-size="27.5" textLength="30.5" lengthAdjust="spacingAndGlyphs">2.0</text>
<text x="85.6" y="1560.6" font-size="27.5" text-anchor="end" textLength="30.5" lengthAdjust="spacingAndGlyphs">2.5</text>
<text x="928.7" y="1560.6" font-size="27.5" textLength="30.5" lengthAdjust="spacingAndGlyphs">2.5</text>
<text x="85.6" y="1504.2" font-size="27.5" text-anchor="end" textLength="30.5" lengthAdjust="spacingAndGlyphs">3.0</text>
<text x="928.7" y="1504.2" font-size="27.5" textLength="30.5" lengthAdjust="spacingAndGlyphs">3.0</text>
<text x="85.6" y="1447.8" font-size="27.5" text-anchor="end" textLength="30.5" lengthAdjust="spacingAndGlyphs">3.5</text>
<text x="928.7" y="1447.8" font-size="27.5" textLength="30.5" lengthAdjust="spacingAndGlyphs">3.5</text>
<text x="85.6" y="1391.3" font-size="27.5" text-anchor="end" textLength="30.5" lengthAdjust="spacingAndGlyphs">4.0</text>
<text x="928.7" y="1391.3" font-size="27.5" textLength="30.5" lengthAdjust="spacingAndGlyphs">4.0</text>
<text transform="translate(127.9,1845.3) rotate(-90)" font-size="23.5" text-anchor="end" textLength="23.04" lengthAdjust="spacingAndGlyphs">10</text>
<text transform="translate(176.1,1845.3) rotate(-90)" font-size="23.5" text-anchor="end" textLength="11.52" lengthAdjust="spacingAndGlyphs">5</text>
<text transform="translate(224.4,1845.3) rotate(-90)" font-size="23.5" text-anchor="end" textLength="28.799999999999997" lengthAdjust="spacingAndGlyphs">2.5</text>
<text transform="translate(272.6,1845.3) rotate(-90)" font-size="23.5" text-anchor="end" textLength="40.32" lengthAdjust="spacingAndGlyphs">1.25</text>
<text transform="translate(320.8,1845.3) rotate(-90)" font-size="23.5" text-anchor="end" textLength="40.32" lengthAdjust="spacingAndGlyphs">0.63</text>
<text transform="translate(369.0,1845.3) rotate(-90)" font-size="23.5" text-anchor="end" textLength="40.32" lengthAdjust="spacingAndGlyphs">0.31</text>
<text transform="translate(417.3,1845.3) rotate(-90)" font-size="23.5" text-anchor="end" textLength="40.32" lengthAdjust="spacingAndGlyphs">0.16</text>
<text transform="translate(465.5,1845.3) rotate(-90)" font-size="23.5" text-anchor="end" textLength="11.52" lengthAdjust="spacingAndGlyphs">0</text>
<text transform="translate(561.9,1845.3) rotate(-90)" font-size="23.5" text-anchor="end" textLength="23.04" lengthAdjust="spacingAndGlyphs">10</text>
<text transform="translate(610.1,1845.3) rotate(-90)" font-size="23.5" text-anchor="end" textLength="11.52" lengthAdjust="spacingAndGlyphs">5</text>
<text transform="translate(658.4,1845.3) rotate(-90)" font-size="23.5" text-anchor="end" textLength="28.799999999999997" lengthAdjust="spacingAndGlyphs">2.5</text>
<text transform="translate(706.6,1845.3) rotate(-90)" font-size="23.5" text-anchor="end" textLength="40.32" lengthAdjust="spacingAndGlyphs">1.25</text>
<text transform="translate(754.8,1845.3) rotate(-90)" font-size="23.5" text-anchor="end" textLength="40.32" lengthAdjust="spacingAndGlyphs">0.63</text>
<text transform="translate(803.0,1845.3) rotate(-90)" font-size="23.5" text-anchor="end" textLength="40.32" lengthAdjust="spacingAndGlyphs">0.31</text>
<text transform="translate(851.3,1845.3) rotate(-90)" font-size="23.5" text-anchor="end" textLength="40.32" lengthAdjust="spacingAndGlyphs">0.16</text>
<text transform="translate(899.5,1845.3) rotate(-90)" font-size="23.5" text-anchor="end" textLength="11.52" lengthAdjust="spacingAndGlyphs">0</text>
<text transform="translate(36.0,1651.1) rotate(-90)" font-size="26.5" textLength="36.8" lengthAdjust="spacingAndGlyphs">OD</text>
<text transform="translate(42.6,1613.4) rotate(-90)" font-size="18" textLength="51.1" lengthAdjust="spacingAndGlyphs">450nm</text>
<text transform="translate(982.0,1561.6) rotate(90)" font-size="26.5" textLength="35.9" lengthAdjust="spacingAndGlyphs">OD</text>
<text transform="translate(976.0,1598.8) rotate(90)" font-size="18" textLength="52.1" lengthAdjust="spacingAndGlyphs">450nm</text>
<text x="348.8" y="1923.9" font-size="24" textLength="321.0" lengthAdjust="spacingAndGlyphs">Peptide concentration (µ g/mL)</text>
<path d="M120.1,1465.1 L168.3,1475.3 L216.6,1470.8 L264.8,1484.3 L313.0,1482.1 L361.2,1491.1 L409.5,1499.0 L457.7,1464.0" fill="none" stroke="#000" stroke-width="2.0" stroke-linejoin="round"/>
<path d="M120.1,1584.8 L168.3,1571.2 L216.6,1571.2 L264.8,1580.3 L313.0,1561.1 L361.2,1546.4 L409.5,1528.3 L457.7,1456.1" fill="none" stroke="#000" stroke-width="2.0" stroke-linejoin="round"/>
<path d="M120.1,1460.6 L168.3,1474.1 L216.6,1464.0 L264.8,1477.5 L313.0,1477.5 L361.2,1479.8 L409.5,1496.7 L457.7,1445.9" fill="none" stroke="#000" stroke-width="2.0" stroke-linejoin="round"/>
<path d="M120.1,1448.2 L168.3,1453.8 L216.6,1451.6 L264.8,1455.0 L313.0,1452.7 L361.2,1452.7 L409.5,1452.7 L457.7,1413.2" fill="none" stroke="#000" stroke-width="2.0" stroke-linejoin="round"/>
<path d="M120.1,1584.8 L168.3,1597.2 L216.6,1600.6 L264.8,1593.8 L313.0,1570.1 L361.2,1562.2 L409.5,1537.4 L457.7,1461.7" fill="none" stroke="#000" stroke-width="2.0" stroke-linejoin="round"/>
<polygon points="120.1,1460.4 124.8,1465.1 120.1,1469.8 115.4,1465.1" fill="#fff" stroke="#000" stroke-width="2.1"/>
<polygon points="168.3,1470.6 173.0,1475.3 168.3,1480.0 163.6,1475.3" fill="#fff" stroke="#000" stroke-width="2.1"/>
<polygon points="216.6,1466.1 221.2,1470.8 216.6,1475.5 211.9,1470.8" fill="#fff" stroke="#000" stroke-width="2.1"/>
<polygon points="264.8,1479.6 269.5,1484.3 264.8,1489.0 260.1,1484.3" fill="#fff" stroke="#000" stroke-width="2.1"/>
<polygon points="313.0,1477.4 317.7,1482.1 313.0,1486.8 308.3,1482.1" fill="#fff" stroke="#000" stroke-width="2.1"/>
<polygon points="361.2,1486.4 365.9,1491.1 361.2,1495.8 356.5,1491.1" fill="#fff" stroke="#000" stroke-width="2.1"/>
<polygon points="409.5,1494.3 414.2,1499.0 409.5,1503.7 404.8,1499.0" fill="#fff" stroke="#000" stroke-width="2.1"/>
<polygon points="457.7,1459.3 462.4,1464.0 457.7,1468.7 453.0,1464.0" fill="#fff" stroke="#000" stroke-width="2.1"/>
<polygon points="120.1,1579.8 125.1,1588.5 115.1,1588.5" fill="#000"/>
<polygon points="168.3,1566.2 173.3,1575.0 163.3,1575.0" fill="#000"/>
<polygon points="216.6,1566.2 221.6,1575.0 211.6,1575.0" fill="#000"/>
<polygon points="264.8,1575.3 269.8,1584.0 259.8,1584.0" fill="#000"/>
<polygon points="313.0,1556.1 318.0,1564.8 308.0,1564.8" fill="#000"/>
<polygon points="361.2,1541.4 366.2,1550.2 356.2,1550.2" fill="#000"/>
<polygon points="409.5,1523.3 414.5,1532.1 404.5,1532.1" fill="#000"/>
<polygon points="457.7,1451.1 462.7,1459.8 452.7,1459.8" fill="#000"/>
<circle cx="120.1" cy="1460.6" r="4.4" fill="#fff" stroke="#000" stroke-width="2.1"/>
<circle cx="168.3" cy="1474.1" r="4.4" fill="#fff" stroke="#000" stroke-width="2.1"/>
<circle cx="216.6" cy="1464.0" r="4.4" fill="#fff" stroke="#000" stroke-width="2.1"/>
<circle cx="264.8" cy="1477.5" r="4.4" fill="#fff" stroke="#000" stroke-width="2.1"/>
<circle cx="313.0" cy="1477.5" r="4.4" fill="#fff" stroke="#000" stroke-width="2.1"/>
<circle cx="361.2" cy="1479.8" r="4.4" fill="#fff" stroke="#000" stroke-width="2.1"/>
<circle cx="409.5" cy="1496.7" r="4.4" fill="#fff" stroke="#000" stroke-width="2.1"/>
<circle cx="457.7" cy="1445.9" r="4.4" fill="#fff" stroke="#000" stroke-width="2.1"/>
<polygon points="120.1,1453.2 125.1,1444.4 115.1,1444.4" fill="#000"/>
<polygon points="168.3,1458.8 173.3,1450.1 163.3,1450.1" fill="#000"/>
<polygon points="216.6,1456.6 221.6,1447.8 211.6,1447.8" fill="#000"/>
<polygon points="264.8,1460.0 269.8,1451.2 259.8,1451.2" fill="#000"/>
<polygon points="313.0,1457.7 318.0,1448.9 308.0,1448.9" fill="#000"/>
<polygon points="361.2,1457.7 366.2,1448.9 356.2,1448.9" fill="#000"/>
<polygon points="409.5,1457.7 414.5,1448.9 404.5,1448.9" fill="#000"/>
<polygon points="457.7,1418.2 462.7,1409.4 452.7,1409.4" fill="#000"/>
<circle cx="120.1" cy="1584.8" r="4.8" fill="#000"/>
<circle cx="168.3" cy="1597.2" r="4.8" fill="#000"/>
<circle cx="216.6" cy="1600.6" r="4.8" fill="#000"/>
<circle cx="264.8" cy="1593.8" r="4.8" fill="#000"/>
<circle cx="313.0" cy="1570.1" r="4.8" fill="#000"/>
<circle cx="361.2" cy="1562.2" r="4.8" fill="#000"/>
<circle cx="409.5" cy="1537.4" r="4.8" fill="#000"/>
<circle cx="457.7" cy="1461.7" r="4.8" fill="#000"/>
<path d="M120.1,1458.3 V1471.9 M114.9,1458.3 H125.3 M114.9,1471.9 H125.3" stroke="#000" stroke-width="1.8" fill="none"/>
<path d="M168.3,1470.8 V1479.8 M163.1,1470.8 H173.5 M163.1,1479.8 H173.5" stroke="#000" stroke-width="1.8" fill="none"/>
<path d="M216.6,1467.4 V1474.1 M211.4,1467.4 H221.8 M211.4,1474.1 H221.8" stroke="#000" stroke-width="1.8" fill="none"/>
<path d="M264.8,1480.9 V1487.7 M259.6,1480.9 H270.0 M259.6,1487.7 H270.0" stroke="#000" stroke-width="1.8" fill="none"/>
<path d="M313.0,1478.7 V1485.4 M307.8,1478.7 H318.2 M307.8,1485.4 H318.2" stroke="#000" stroke-width="1.8" fill="none"/>
<path d="M361.2,1487.7 V1494.5 M356.0,1487.7 H366.4 M356.0,1494.5 H366.4" stroke="#000" stroke-width="1.8" fill="none"/>
<path d="M409.5,1493.3 V1504.6 M404.3,1493.3 H414.7 M404.3,1504.6 H414.7" stroke="#000" stroke-width="1.8" fill="none"/>
<path d="M457.7,1458.3 V1469.6 M452.5,1458.3 H462.9 M452.5,1469.6 H462.9" stroke="#000" stroke-width="1.8" fill="none"/>
<path d="M120.1,1581.4 V1588.2 M114.9,1581.4 H125.3 M114.9,1588.2 H125.3" stroke="#000" stroke-width="1.8" fill="none"/>
<path d="M168.3,1566.7 V1575.8 M163.1,1566.7 H173.5 M163.1,1575.8 H173.5" stroke="#000" stroke-width="1.8" fill="none"/>
<path d="M216.6,1561.1 V1581.4 M211.4,1561.1 H221.8 M211.4,1581.4 H221.8" stroke="#000" stroke-width="1.8" fill="none"/>
<path d="M264.8,1575.8 V1584.8 M259.6,1575.8 H270.0 M259.6,1584.8 H270.0" stroke="#000" stroke-width="1.8" fill="none"/>
<path d="M313.0,1557.7 V1564.5 M307.8,1557.7 H318.2 M307.8,1564.5 H318.2" stroke="#000" stroke-width="1.8" fill="none"/>
<path d="M361.2,1534.0 V1558.8 M356.0,1534.0 H366.4 M356.0,1558.8 H366.4" stroke="#000" stroke-width="1.8" fill="none"/>
<path d="M409.5,1522.7 V1534.0 M404.3,1522.7 H414.7 M404.3,1534.0 H414.7" stroke="#000" stroke-width="1.8" fill="none"/>
<path d="M457.7,1452.7 V1459.5 M452.5,1452.7 H462.9 M452.5,1459.5 H462.9" stroke="#000" stroke-width="1.8" fill="none"/>
<path d="M120.1,1447.1 V1474.1 M114.9,1447.1 H125.3 M114.9,1474.1 H125.3" stroke="#000" stroke-width="1.8" fill="none"/>
<path d="M168.3,1465.1 V1483.2 M163.1,1465.1 H173.5 M163.1,1483.2 H173.5" stroke="#000" stroke-width="1.8" fill="none"/>
<path d="M216.6,1458.3 V1469.6 M211.4,1458.3 H221.8 M211.4,1469.6 H221.8" stroke="#000" stroke-width="1.8" fill="none"/>
<path d="M264.8,1474.1 V1480.9 M259.6,1474.1 H270.0 M259.6,1480.9 H270.0" stroke="#000" stroke-width="1.8" fill="none"/>
<path d="M313.0,1470.8 V1484.3 M307.8,1470.8 H318.2 M307.8,1484.3 H318.2" stroke="#000" stroke-width="1.8" fill="none"/>
<path d="M361.2,1476.4 V1483.2 M356.0,1476.4 H366.4 M356.0,1483.2 H366.4" stroke="#000" stroke-width="1.8" fill="none"/>
<path d="M409.5,1491.1 V1502.4 M404.3,1491.1 H414.7 M404.3,1502.4 H414.7" stroke="#000" stroke-width="1.8" fill="none"/>
<path d="M457.7,1440.3 V1451.6 M452.5,1440.3 H462.9 M452.5,1451.6 H462.9" stroke="#000" stroke-width="1.8" fill="none"/>
<path d="M120.1,1444.8 V1451.6 M114.9,1444.8 H125.3 M114.9,1451.6 H125.3" stroke="#000" stroke-width="1.8" fill="none"/>
<path d="M168.3,1450.4 V1457.2 M163.1,1450.4 H173.5 M163.1,1457.2 H173.5" stroke="#000" stroke-width="1.8" fill="none"/>
<path d="M216.6,1448.2 V1455.0 M211.4,1448.2 H221.8 M211.4,1455.0 H221.8" stroke="#000" stroke-width="1.8" fill="none"/>
<path d="M264.8,1451.6 V1458.3 M259.6,1451.6 H270.0 M259.6,1458.3 H270.0" stroke="#000" stroke-width="1.8" fill="none"/>
<path d="M313.0,1447.1 V1458.3 M307.8,1447.1 H318.2 M307.8,1458.3 H318.2" stroke="#000" stroke-width="1.8" fill="none"/>
<path d="M361.2,1447.1 V1458.3 M356.0,1447.1 H366.4 M356.0,1458.3 H366.4" stroke="#000" stroke-width="1.8" fill="none"/>
<path d="M409.5,1441.4 V1464.0 M404.3,1441.4 H414.7 M404.3,1464.0 H414.7" stroke="#000" stroke-width="1.8" fill="none"/>
<path d="M457.7,1410.9 V1415.4 M452.5,1410.9 H462.9 M452.5,1415.4 H462.9" stroke="#000" stroke-width="1.8" fill="none"/>
<path d="M120.1,1581.4 V1588.2 M114.9,1581.4 H125.3 M114.9,1588.2 H125.3" stroke="#000" stroke-width="1.8" fill="none"/>
<path d="M168.3,1591.6 V1602.9 M163.1,1591.6 H173.5 M163.1,1602.9 H173.5" stroke="#000" stroke-width="1.8" fill="none"/>
<path d="M216.6,1596.1 V1605.1 M211.4,1596.1 H221.8 M211.4,1605.1 H221.8" stroke="#000" stroke-width="1.8" fill="none"/>
<path d="M264.8,1591.6 V1596.1 M259.6,1591.6 H270.0 M259.6,1596.1 H270.0" stroke="#000" stroke-width="1.8" fill="none"/>
<path d="M313.0,1567.9 V1572.4 M307.8,1567.9 H318.2 M307.8,1572.4 H318.2" stroke="#000" stroke-width="1.8" fill="none"/>
<path d="M361.2,1558.8 V1565.6 M356.0,1558.8 H366.4 M356.0,1565.6 H366.4" stroke="#000" stroke-width="1.8" fill="none"/>
<path d="M409.5,1534.0 V1540.8 M404.3,1534.0 H414.7 M404.3,1540.8 H414.7" stroke="#000" stroke-width="1.8" fill="none"/>
<path d="M457.7,1458.3 V1465.1 M452.5,1458.3 H462.9 M452.5,1465.1 H462.9" stroke="#000" stroke-width="1.8" fill="none"/>
<path d="M554.1,1483.2 L602.4,1445.9 L650.6,1435.8 L698.8,1436.9 L747.0,1441.4 L795.2,1439.2 L843.5,1435.8 L891.7,1399.6" fill="none" stroke="#000" stroke-width="2.0" stroke-linejoin="round"/>
<path d="M554.1,1422.2 L602.4,1425.6 L650.6,1422.2 L698.8,1421.1 L747.0,1427.9 L795.2,1422.2 L843.5,1423.3 L891.7,1396.2" fill="none" stroke="#000" stroke-width="2.0" stroke-linejoin="round"/>
<path d="M554.1,1436.9 L602.4,1433.5 L650.6,1427.9 L698.8,1432.4 L747.0,1427.9 L795.2,1432.4 L843.5,1430.1 L891.7,1398.5" fill="none" stroke="#000" stroke-width="2.0" stroke-linejoin="round"/>
<path d="M554.1,1440.3 L602.4,1431.2 L650.6,1425.6 L698.8,1425.6 L747.0,1430.1 L795.2,1427.9 L843.5,1427.9 L891.7,1397.4" fill="none" stroke="#000" stroke-width="2.0" stroke-linejoin="round"/>
<path d="M554.1,1453.8 L602.4,1443.7 L650.6,1438.0 L698.8,1439.2 L747.0,1442.5 L795.2,1438.0 L843.5,1436.9 L891.7,1394.0" fill="none" stroke="#000" stroke-width="2.0" stroke-linejoin="round"/>
<polygon points="554.1,1478.5 558.8,1483.2 554.1,1487.9 549.4,1483.2" fill="#fff" stroke="#000" stroke-width="2.1"/>
<polygon points="602.4,1441.2 607.1,1445.9 602.4,1450.6 597.6,1445.9" fill="#fff" stroke="#000" stroke-width="2.1"/>
<polygon points="650.6,1431.1 655.3,1435.8 650.6,1440.5 645.9,1435.8" fill="#fff" stroke="#000" stroke-width="2.1"/>
<polygon points="698.8,1432.2 703.5,1436.9 698.8,1441.6 694.1,1436.9" fill="#fff" stroke="#000" stroke-width="2.1"/>
<polygon points="747.0,1436.7 751.7,1441.4 747.0,1446.1 742.3,1441.4" fill="#fff" stroke="#000" stroke-width="2.1"/>
<polygon points="795.2,1434.5 800.0,1439.2 795.2,1443.9 790.5,1439.2" fill="#fff" stroke="#000" stroke-width="2.1"/>
<polygon points="843.5,1431.1 848.2,1435.8 843.5,1440.5 838.8,1435.8" fill="#fff" stroke="#000" stroke-width="2.1"/>
<polygon points="891.7,1394.9 896.4,1399.6 891.7,1404.3 887.0,1399.6" fill="#fff" stroke="#000" stroke-width="2.1"/>
<polygon points="554.1,1417.2 559.1,1426.0 549.1,1426.0" fill="#000"/>
<polygon points="602.4,1420.6 607.4,1429.4 597.4,1429.4" fill="#000"/>
<polygon points="650.6,1417.2 655.6,1426.0 645.6,1426.0" fill="#000"/>
<polygon points="698.8,1416.1 703.8,1424.8 693.8,1424.8" fill="#000"/>
<polygon points="747.0,1422.9 752.0,1431.6 742.0,1431.6" fill="#000"/>
<polygon points="795.2,1417.2 800.2,1426.0 790.2,1426.0" fill="#000"/>
<polygon points="843.5,1418.3 848.5,1427.1 838.5,1427.1" fill="#000"/>
<polygon points="891.7,1391.2 896.7,1400.0 886.7,1400.0" fill="#000"/>
<circle cx="554.1" cy="1436.9" r="4.4" fill="#fff" stroke="#000" stroke-width="2.1"/>
<circle cx="602.4" cy="1433.5" r="4.4" fill="#fff" stroke="#000" stroke-width="2.1"/>
<circle cx="650.6" cy="1427.9" r="4.4" fill="#fff" stroke="#000" stroke-width="2.1"/>
<circle cx="698.8" cy="1432.4" r="4.4" fill="#fff" stroke="#000" stroke-width="2.1"/>
<circle cx="747.0" cy="1427.9" r="4.4" fill="#fff" stroke="#000" stroke-width="2.1"/>
<circle cx="795.2" cy="1432.4" r="4.4" fill="#fff" stroke="#000" stroke-width="2.1"/>
<circle cx="843.5" cy="1430.1" r="4.4" fill="#fff" stroke="#000" stroke-width="2.1"/>
<circle cx="891.7" cy="1398.5" r="4.4" fill="#fff" stroke="#000" stroke-width="2.1"/>
<polygon points="554.1,1445.3 559.1,1436.5 549.1,1436.5" fill="#000"/>
<polygon points="602.4,1436.2 607.4,1427.5 597.4,1427.5" fill="#000"/>
<polygon points="650.6,1430.6 655.6,1421.9 645.6,1421.9" fill="#000"/>
<polygon points="698.8,1430.6 703.8,1421.9 693.8,1421.9" fill="#000"/>
<polygon points="747.0,1435.1 752.0,1426.4 742.0,1426.4" fill="#000"/>
<polygon points="795.2,1432.9 800.2,1424.1 790.2,1424.1" fill="#000"/>
<polygon points="843.5,1432.9 848.5,1424.1 838.5,1424.1" fill="#000"/>
<polygon points="891.7,1402.4 896.7,1393.6 886.7,1393.6" fill="#000"/>
<circle cx="554.1" cy="1453.8" r="4.8" fill="#000"/>
<circle cx="602.4" cy="1443.7" r="4.8" fill="#000"/>
<circle cx="650.6" cy="1438.0" r="4.8" fill="#000"/>
<circle cx="698.8" cy="1439.2" r="4.8" fill="#000"/>
<circle cx="747.0" cy="1442.5" r="4.8" fill="#000"/>
<circle cx="795.2" cy="1438.0" r="4.8" fill="#000"/>
<circle cx="843.5" cy="1436.9" r="4.8" fill="#000"/>
<circle cx="891.7" cy="1394.0" r="4.8" fill="#000"/>
<path d="M554.1,1462.9 V1503.5 M548.9,1462.9 H559.3 M548.9,1503.5 H559.3" stroke="#000" stroke-width="1.8" fill="none"/>
<path d="M602.4,1433.5 V1458.3 M597.1,1433.5 H607.6 M597.1,1458.3 H607.6" stroke="#000" stroke-width="1.8" fill="none"/>
<path d="M650.6,1431.2 V1440.3 M645.4,1431.2 H655.8 M645.4,1440.3 H655.8" stroke="#000" stroke-width="1.8" fill="none"/>
<path d="M698.8,1431.2 V1442.5 M693.6,1431.2 H704.0 M693.6,1442.5 H704.0" stroke="#000" stroke-width="1.8" fill="none"/>
<path d="M747.0,1435.8 V1447.1 M741.8,1435.8 H752.2 M741.8,1447.1 H752.2" stroke="#000" stroke-width="1.8" fill="none"/>
<path d="M795.2,1435.8 V1442.5 M790.0,1435.8 H800.5 M790.0,1442.5 H800.5" stroke="#000" stroke-width="1.8" fill="none"/>
<path d="M843.5,1432.4 V1439.1 M838.3,1432.4 H848.7 M838.3,1439.1 H848.7" stroke="#000" stroke-width="1.8" fill="none"/>
<path d="M891.7,1397.4 V1401.9 M886.5,1397.4 H896.9 M886.5,1401.9 H896.9" stroke="#000" stroke-width="1.8" fill="none"/>
<path d="M554.1,1405.3 V1439.2 M548.9,1405.3 H559.3 M548.9,1439.2 H559.3" stroke="#000" stroke-width="1.8" fill="none"/>
<path d="M602.4,1422.2 V1429.0 M597.1,1422.2 H607.6 M597.1,1429.0 H607.6" stroke="#000" stroke-width="1.8" fill="none"/>
<path d="M650.6,1418.8 V1425.6 M645.4,1418.8 H655.8 M645.4,1425.6 H655.8" stroke="#000" stroke-width="1.8" fill="none"/>
<path d="M698.8,1417.7 V1424.5 M693.6,1417.7 H704.0 M693.6,1424.5 H704.0" stroke="#000" stroke-width="1.8" fill="none"/>
<path d="M747.0,1424.5 V1431.2 M741.8,1424.5 H752.2 M741.8,1431.2 H752.2" stroke="#000" stroke-width="1.8" fill="none"/>
<path d="M795.2,1418.8 V1425.6 M790.0,1418.8 H800.5 M790.0,1425.6 H800.5" stroke="#000" stroke-width="1.8" fill="none"/>
<path d="M843.5,1420.0 V1426.7 M838.3,1420.0 H848.7 M838.3,1426.7 H848.7" stroke="#000" stroke-width="1.8" fill="none"/>
<path d="M891.7,1394.0 V1398.5 M886.5,1394.0 H896.9 M886.5,1398.5 H896.9" stroke="#000" stroke-width="1.8" fill="none"/>
<path d="M554.1,1433.5 V1440.3 M548.9,1433.5 H559.3 M548.9,1440.3 H559.3" stroke="#000" stroke-width="1.8" fill="none"/>
<path d="M602.4,1430.1 V1436.9 M597.1,1430.1 H607.6 M597.1,1436.9 H607.6" stroke="#000" stroke-width="1.8" fill="none"/>
<path d="M650.6,1424.5 V1431.2 M645.4,1424.5 H655.8 M645.4,1431.2 H655.8" stroke="#000" stroke-width="1.8" fill="none"/>
<path d="M698.8,1429.0 V1435.8 M693.6,1429.0 H704.0 M693.6,1435.8 H704.0" stroke="#000" stroke-width="1.8" fill="none"/>
<path d="M747.0,1424.5 V1431.2 M741.8,1424.5 H752.2 M741.8,1431.2 H752.2" stroke="#000" stroke-width="1.8" fill="none"/>
<path d="M795.2,1429.0 V1435.8 M790.0,1429.0 H800.5 M790.0,1435.8 H800.5" stroke="#000" stroke-width="1.8" fill="none"/>
<path d="M843.5,1426.7 V1433.5 M838.3,1426.7 H848.7 M838.3,1433.5 H848.7" stroke="#000" stroke-width="1.8" fill="none"/>
<path d="M891.7,1396.2 V1400.8 M886.5,1396.2 H896.9 M886.5,1400.8 H896.9" stroke="#000" stroke-width="1.8" fill="none"/>
<path d="M554.1,1436.9 V1443.7 M548.9,1436.9 H559.3 M548.9,1443.7 H559.3" stroke="#000" stroke-width="1.8" fill="none"/>
<path d="M602.4,1427.9 V1434.6 M597.1,1427.9 H607.6 M597.1,1434.6 H607.6" stroke="#000" stroke-width="1.8" fill="none"/>
<path d="M650.6,1422.2 V1429.0 M645.4,1422.2 H655.8 M645.4,1429.0 H655.8" stroke="#000" stroke-width="1.8" fill="none"/>
<path d="M698.8,1422.2 V1429.0 M693.6,1422.2 H704.0 M693.6,1429.0 H704.0" stroke="#000" stroke-width="1.8" fill="none"/>
<path d="M747.0,1426.7 V1433.5 M741.8,1426.7 H752.2 M741.8,1433.5 H752.2" stroke="#000" stroke-width="1.8" fill="none"/>
<path d="M795.2,1424.5 V1431.2 M790.0,1424.5 H800.5 M790.0,1431.2 H800.5" stroke="#000" stroke-width="1.8" fill="none"/>
<path d="M843.5,1424.5 V1431.2 M838.3,1424.5 H848.7 M838.3,1431.2 H848.7" stroke="#000" stroke-width="1.8" fill="none"/>
<path d="M891.7,1395.1 V1399.6 M886.5,1395.1 H896.9 M886.5,1399.6 H896.9" stroke="#000" stroke-width="1.8" fill="none"/>
<path d="M554.1,1450.4 V1457.2 M548.9,1450.4 H559.3 M548.9,1457.2 H559.3" stroke="#000" stroke-width="1.8" fill="none"/>
<path d="M602.4,1440.3 V1447.1 M597.1,1440.3 H607.6 M597.1,1447.1 H607.6" stroke="#000" stroke-width="1.8" fill="none"/>
<path d="M650.6,1434.6 V1441.4 M645.4,1434.6 H655.8 M645.4,1441.4 H655.8" stroke="#000" stroke-width="1.8" fill="none"/>
<path d="M698.8,1435.8 V1442.5 M693.6,1435.8 H704.0 M693.6,1442.5 H704.0" stroke="#000" stroke-width="1.8" fill="none"/>
<path d="M747.0,1429.0 V1456.1 M741.8,1429.0 H752.2 M741.8,1456.1 H752.2" stroke="#000" stroke-width="1.8" fill="none"/>
<path d="M795.2,1434.6 V1441.4 M790.0,1434.6 H800.5 M790.0,1441.4 H800.5" stroke="#000" stroke-width="1.8" fill="none"/>
<path d="M843.5,1433.5 V1440.3 M838.3,1433.5 H848.7 M838.3,1440.3 H848.7" stroke="#000" stroke-width="1.8" fill="none"/>
<path d="M891.7,1391.7 V1396.2 M886.5,1391.7 H896.9 M886.5,1396.2 H896.9" stroke="#000" stroke-width="1.8" fill="none"/>
<line x1="445.2" y1="1615.2" x2="471.9" y2="1615.2" stroke="#000" stroke-width="2.2"/>
<polygon points="458.5,1611.3 462.4,1615.2 458.5,1619.1 454.7,1615.2" fill="#fff" stroke="#000" stroke-width="2.1"/>
<text x="488.9" y="1623.2" font-size="24.2" textLength="178.0" lengthAdjust="spacingAndGlyphs">mSp17 (109-122)</text>
<line x1="445.2" y1="1643.1" x2="471.9" y2="1643.1" stroke="#000" stroke-width="2.2"/>
<polygon points="458.5,1638.9 462.7,1646.2 454.4,1646.2" fill="#000"/>
<text x="488.9" y="1651.1" font-size="24.2" textLength="178.0" lengthAdjust="spacingAndGlyphs">mSp17 (119-136)</text>
<line x1="445.2" y1="1671.0" x2="471.9" y2="1671.0" stroke="#000" stroke-width="2.2"/>
<circle cx="458.5" cy="1671.0" r="3.6" fill="#fff" stroke="#000" stroke-width="2.1"/>
<text x="488.9" y="1679.0" font-size="24.2" textLength="178.0" lengthAdjust="spacingAndGlyphs">mSp17 (131-143)</text>
<line x1="445.2" y1="1698.9" x2="471.9" y2="1698.9" stroke="#000" stroke-width="2.2"/>
<polygon points="458.5,1703.1 462.7,1695.8 454.4,1695.8" fill="#000"/>
<text x="488.9" y="1706.9" font-size="24.2" textLength="178.0" lengthAdjust="spacingAndGlyphs">mSp17 (115-123)</text>
<line x1="445.2" y1="1726.8" x2="471.9" y2="1726.8" stroke="#000" stroke-width="2.2"/>
<circle cx="458.5" cy="1726.8" r="4.0" fill="#000"/>
<text x="488.9" y="1734.8" font-size="24.2" textLength="178.0" lengthAdjust="spacingAndGlyphs">mSp17 (109-143)</text>
</svg></body></html>
